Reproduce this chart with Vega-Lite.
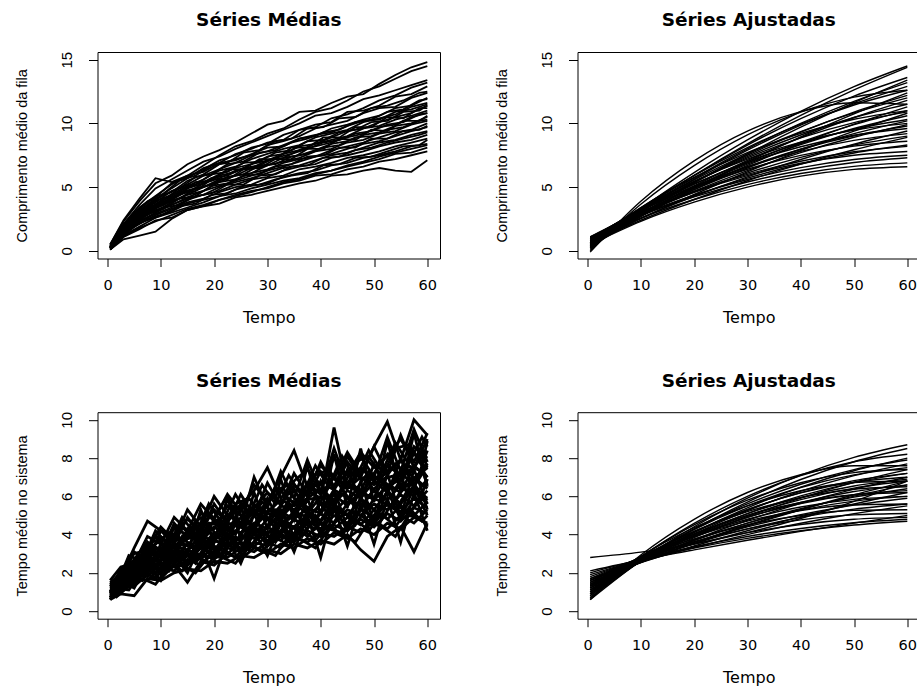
{
"$schema": "https://vega.github.io/schema/vega-lite/v6.json",
"usermeta": {"embedOptions": {"actions": false}},
"background": "white",
"padding": {"left": 13.5, "top": 10, "right": 0, "bottom": 0},
"columns": 2,
"spacing": {"row": 153.2, "column": 137},
"bounds": "flush",
"config": {
 "view": {"stroke": "#000", "strokeWidth": 1},
 "title": {"font": "DejaVu Sans", "fontSize": 18.5, "fontWeight": "bold", "color": "#000", "anchor": "middle", "frame": "group", "baseline": "alphabetic", "offset": 21.5},
 "axis": {"domain": false, "grid": false, "tickColor": "#000", "tickWidth": 1, "labelColor": "#000", "titleColor": "#000", "titleFontWeight": "normal", "labelOverlap": false, "labelFlush": false},
 "axisX": {"tickSize": 8, "labelFont": "DejaVu Sans", "labelFontSize": 14.5, "labelBaseline": "alphabetic", "labelPadding": 23.2, "titleFont": "DejaVu Sans", "titleFontSize": 16, "titleBaseline": "alphabetic", "titleY": 64.2},
 "axisY": {"tickSize": 9, "labelFont": "Liberation Sans", "labelFontSize": 15, "labelAngle": 270, "labelAlign": "center", "labelBaseline": "alphabetic", "labelPadding": 17.4, "titleFont": "Liberation Sans", "titleFontSize": 14.5, "titleAngle": 270, "titleAlign": "center", "titleBaseline": "alphabetic", "titleX": -70.7, "titleY": 103.25},
 "line": {"color": "#000", "strokeWidth": 1}
},
"datasets": {
"p1": [
{"s":1,"t":0.5,"y":0.5},{"s":1,"t":3,"y":2.3},{"s":1,"t":6,"y":3.9},{"s":1,"t":9,"y":5.3},{"s":1,"t":12,"y":5.9},{"s":1,"t":15,"y":6.8},{"s":1,"t":18,"y":7.4},{"s":1,"t":21,"y":7.9},{"s":1,"t":24,"y":8.5},{"s":1,"t":27,"y":9.2},{"s":1,"t":30,"y":9.9},{"s":1,"t":33,"y":10.2},{"s":1,"t":36,"y":10.9},{"s":1,"t":39,"y":11.0},{"s":1,"t":42,"y":11.6},{"s":1,"t":45,"y":12.1},{"s":1,"t":48,"y":12.3},{"s":1,"t":51,"y":13.1},{"s":1,"t":54,"y":13.8},{"s":1,"t":57,"y":14.4},{"s":1,"t":60,"y":14.8},
{"s":2,"t":0.5,"y":0.4},{"s":2,"t":3,"y":2.0},{"s":2,"t":6,"y":3.4},{"s":2,"t":9,"y":4.3},{"s":2,"t":12,"y":5.2},{"s":2,"t":15,"y":5.9},{"s":2,"t":18,"y":6.7},{"s":2,"t":21,"y":7.5},{"s":2,"t":24,"y":8.2},{"s":2,"t":27,"y":8.6},{"s":2,"t":30,"y":9.2},{"s":2,"t":33,"y":9.6},{"s":2,"t":36,"y":10.3},{"s":2,"t":39,"y":10.9},{"s":2,"t":42,"y":11.2},{"s":2,"t":45,"y":11.8},{"s":2,"t":48,"y":12.5},{"s":2,"t":51,"y":12.9},{"s":2,"t":54,"y":13.5},{"s":2,"t":57,"y":14.1},{"s":2,"t":60,"y":14.5},
{"s":3,"t":0.5,"y":0.4},{"s":3,"t":3,"y":2.1},{"s":3,"t":6,"y":3.6},{"s":3,"t":9,"y":4.9},{"s":3,"t":12,"y":5.6},{"s":3,"t":15,"y":6.3},{"s":3,"t":18,"y":7.0},{"s":3,"t":21,"y":7.4},{"s":3,"t":24,"y":8.0},{"s":3,"t":27,"y":8.5},{"s":3,"t":30,"y":9.0},{"s":3,"t":33,"y":9.5},{"s":3,"t":36,"y":10.0},{"s":3,"t":39,"y":10.6},{"s":3,"t":42,"y":10.8},{"s":3,"t":45,"y":11.3},{"s":3,"t":48,"y":11.9},{"s":3,"t":51,"y":12.2},{"s":3,"t":54,"y":12.6},{"s":3,"t":57,"y":13.0},{"s":3,"t":60,"y":13.4},
{"s":4,"t":0.5,"y":0.3},{"s":4,"t":3,"y":1.9},{"s":4,"t":6,"y":3.3},{"s":4,"t":9,"y":4.2},{"s":4,"t":12,"y":5.3},{"s":4,"t":15,"y":5.8},{"s":4,"t":18,"y":6.4},{"s":4,"t":21,"y":7.1},{"s":4,"t":24,"y":7.5},{"s":4,"t":27,"y":8.1},{"s":4,"t":30,"y":8.4},{"s":4,"t":33,"y":9.1},{"s":4,"t":36,"y":9.5},{"s":4,"t":39,"y":9.7},{"s":4,"t":42,"y":10.4},{"s":4,"t":45,"y":10.7},{"s":4,"t":48,"y":11.2},{"s":4,"t":51,"y":11.8},{"s":4,"t":54,"y":12.2},{"s":4,"t":57,"y":12.8},{"s":4,"t":60,"y":13.2},
{"s":5,"t":0.5,"y":0.2},{"s":5,"t":3,"y":2.0},{"s":5,"t":6,"y":3.2},{"s":5,"t":9,"y":4.0},{"s":5,"t":12,"y":4.9},{"s":5,"t":15,"y":5.7},{"s":5,"t":18,"y":6.5},{"s":5,"t":21,"y":6.9},{"s":5,"t":24,"y":7.6},{"s":5,"t":27,"y":8.0},{"s":5,"t":30,"y":8.5},{"s":5,"t":33,"y":8.7},{"s":5,"t":36,"y":9.5},{"s":5,"t":39,"y":9.9},{"s":5,"t":42,"y":10.1},{"s":5,"t":45,"y":10.9},{"s":5,"t":48,"y":11.0},{"s":5,"t":51,"y":11.4},{"s":5,"t":54,"y":12.1},{"s":5,"t":57,"y":12.3},{"s":5,"t":60,"y":12.9},
{"s":6,"t":0.5,"y":0.3},{"s":6,"t":3,"y":1.8},{"s":6,"t":6,"y":3.1},{"s":6,"t":9,"y":4.1},{"s":6,"t":12,"y":4.6},{"s":6,"t":15,"y":5.5},{"s":6,"t":18,"y":6.0},{"s":6,"t":21,"y":6.8},{"s":6,"t":24,"y":7.2},{"s":6,"t":27,"y":7.5},{"s":6,"t":30,"y":8.3},{"s":6,"t":33,"y":8.6},{"s":6,"t":36,"y":9.0},{"s":6,"t":39,"y":9.6},{"s":6,"t":42,"y":9.9},{"s":6,"t":45,"y":10.2},{"s":6,"t":48,"y":10.8},{"s":6,"t":51,"y":11.2},{"s":6,"t":54,"y":11.3},{"s":6,"t":57,"y":12.0},{"s":6,"t":60,"y":12.4},
{"s":7,"t":0.5,"y":0.3},{"s":7,"t":3,"y":1.9},{"s":7,"t":6,"y":3.0},{"s":7,"t":9,"y":3.8},{"s":7,"t":12,"y":4.7},{"s":7,"t":15,"y":5.2},{"s":7,"t":18,"y":5.9},{"s":7,"t":21,"y":6.4},{"s":7,"t":24,"y":6.9},{"s":7,"t":27,"y":7.5},{"s":7,"t":30,"y":7.8},{"s":7,"t":33,"y":8.3},{"s":7,"t":36,"y":8.8},{"s":7,"t":39,"y":9.0},{"s":7,"t":42,"y":9.6},{"s":7,"t":45,"y":9.9},{"s":7,"t":48,"y":10.3},{"s":7,"t":51,"y":10.6},{"s":7,"t":54,"y":11.2},{"s":7,"t":57,"y":11.4},{"s":7,"t":60,"y":12.0},
{"s":8,"t":0.5,"y":0.4},{"s":8,"t":3,"y":1.7},{"s":8,"t":6,"y":2.9},{"s":8,"t":9,"y":3.9},{"s":8,"t":12,"y":4.4},{"s":8,"t":15,"y":5.1},{"s":8,"t":18,"y":5.6},{"s":8,"t":21,"y":6.3},{"s":8,"t":24,"y":6.6},{"s":8,"t":27,"y":7.2},{"s":8,"t":30,"y":7.6},{"s":8,"t":33,"y":8.0},{"s":8,"t":36,"y":8.3},{"s":8,"t":39,"y":8.9},{"s":8,"t":42,"y":9.2},{"s":8,"t":45,"y":9.5},{"s":8,"t":48,"y":10.1},{"s":8,"t":51,"y":10.4},{"s":8,"t":54,"y":10.7},{"s":8,"t":57,"y":11.3},{"s":8,"t":60,"y":11.6},
{"s":9,"t":0.5,"y":0.2},{"s":9,"t":3,"y":1.8},{"s":9,"t":6,"y":2.8},{"s":9,"t":9,"y":3.6},{"s":9,"t":12,"y":4.3},{"s":9,"t":15,"y":5.0},{"s":9,"t":18,"y":5.4},{"s":9,"t":21,"y":6.0},{"s":9,"t":24,"y":6.5},{"s":9,"t":27,"y":6.8},{"s":9,"t":30,"y":7.4},{"s":9,"t":33,"y":7.6},{"s":9,"t":36,"y":8.2},{"s":9,"t":39,"y":8.4},{"s":9,"t":42,"y":8.9},{"s":9,"t":45,"y":9.4},{"s":9,"t":48,"y":9.6},{"s":9,"t":51,"y":10.1},{"s":9,"t":54,"y":10.5},{"s":9,"t":57,"y":10.8},{"s":9,"t":60,"y":11.4},
{"s":10,"t":0.5,"y":0.3},{"s":10,"t":3,"y":1.6},{"s":10,"t":6,"y":2.9},{"s":10,"t":9,"y":3.5},{"s":10,"t":12,"y":4.1},{"s":10,"t":15,"y":4.9},{"s":10,"t":18,"y":5.3},{"s":10,"t":21,"y":5.9},{"s":10,"t":24,"y":6.2},{"s":10,"t":27,"y":6.8},{"s":10,"t":30,"y":7.1},{"s":10,"t":33,"y":7.6},{"s":10,"t":36,"y":7.9},{"s":10,"t":39,"y":8.4},{"s":10,"t":42,"y":8.7},{"s":10,"t":45,"y":9.0},{"s":10,"t":48,"y":9.6},{"s":10,"t":51,"y":9.8},{"s":10,"t":54,"y":10.3},{"s":10,"t":57,"y":10.6},{"s":10,"t":60,"y":11.0},
{"s":11,"t":0.5,"y":0.3},{"s":11,"t":3,"y":1.7},{"s":11,"t":6,"y":2.7},{"s":11,"t":9,"y":3.5},{"s":11,"t":12,"y":4.2},{"s":11,"t":15,"y":4.6},{"s":11,"t":18,"y":5.3},{"s":11,"t":21,"y":5.7},{"s":11,"t":24,"y":6.3},{"s":11,"t":27,"y":6.5},{"s":11,"t":30,"y":7.1},{"s":11,"t":33,"y":7.3},{"s":11,"t":36,"y":7.9},{"s":11,"t":39,"y":8.2},{"s":11,"t":42,"y":8.5},{"s":11,"t":45,"y":8.9},{"s":11,"t":48,"y":9.2},{"s":11,"t":51,"y":9.7},{"s":11,"t":54,"y":9.9},{"s":11,"t":57,"y":10.5},{"s":11,"t":60,"y":10.8},
{"s":12,"t":0.5,"y":0.2},{"s":12,"t":3,"y":1.5},{"s":12,"t":6,"y":2.6},{"s":12,"t":9,"y":3.4},{"s":12,"t":12,"y":4.0},{"s":12,"t":15,"y":4.7},{"s":12,"t":18,"y":5.0},{"s":12,"t":21,"y":5.6},{"s":12,"t":24,"y":5.9},{"s":12,"t":27,"y":6.5},{"s":12,"t":30,"y":6.7},{"s":12,"t":33,"y":7.3},{"s":12,"t":36,"y":7.5},{"s":12,"t":39,"y":7.9},{"s":12,"t":42,"y":8.4},{"s":12,"t":45,"y":8.6},{"s":12,"t":48,"y":9.1},{"s":12,"t":51,"y":9.3},{"s":12,"t":54,"y":9.8},{"s":12,"t":57,"y":10.0},{"s":12,"t":60,"y":10.5},
{"s":13,"t":0.5,"y":0.3},{"s":13,"t":3,"y":1.6},{"s":13,"t":6,"y":2.5},{"s":13,"t":9,"y":3.3},{"s":13,"t":12,"y":3.9},{"s":13,"t":15,"y":4.4},{"s":13,"t":18,"y":5.0},{"s":13,"t":21,"y":5.4},{"s":13,"t":24,"y":5.9},{"s":13,"t":27,"y":6.1},{"s":13,"t":30,"y":6.7},{"s":13,"t":33,"y":7.0},{"s":13,"t":36,"y":7.3},{"s":13,"t":39,"y":7.8},{"s":13,"t":42,"y":8.0},{"s":13,"t":45,"y":8.5},{"s":13,"t":48,"y":8.7},{"s":13,"t":51,"y":9.2},{"s":13,"t":54,"y":9.4},{"s":13,"t":57,"y":9.9},{"s":13,"t":60,"y":10.2},
{"s":14,"t":0.5,"y":0.2},{"s":14,"t":3,"y":1.5},{"s":14,"t":6,"y":2.6},{"s":14,"t":9,"y":3.1},{"s":14,"t":12,"y":3.8},{"s":14,"t":15,"y":4.4},{"s":14,"t":18,"y":4.7},{"s":14,"t":21,"y":5.4},{"s":14,"t":24,"y":5.6},{"s":14,"t":27,"y":6.1},{"s":14,"t":30,"y":6.4},{"s":14,"t":33,"y":6.9},{"s":14,"t":36,"y":7.2},{"s":14,"t":39,"y":7.4},{"s":14,"t":42,"y":7.9},{"s":14,"t":45,"y":8.2},{"s":14,"t":48,"y":8.5},{"s":14,"t":51,"y":8.9},{"s":14,"t":54,"y":9.3},{"s":14,"t":57,"y":9.5},{"s":14,"t":60,"y":10.0},
{"s":15,"t":0.5,"y":0.3},{"s":15,"t":3,"y":1.4},{"s":15,"t":6,"y":2.4},{"s":15,"t":9,"y":3.2},{"s":15,"t":12,"y":3.6},{"s":15,"t":15,"y":4.2},{"s":15,"t":18,"y":4.7},{"s":15,"t":21,"y":5.1},{"s":15,"t":24,"y":5.5},{"s":15,"t":27,"y":5.9},{"s":15,"t":30,"y":6.3},{"s":15,"t":33,"y":6.6},{"s":15,"t":36,"y":7.0},{"s":15,"t":39,"y":7.4},{"s":15,"t":42,"y":7.6},{"s":15,"t":45,"y":8.0},{"s":15,"t":48,"y":8.4},{"s":15,"t":51,"y":8.6},{"s":15,"t":54,"y":9.0},{"s":15,"t":57,"y":9.4},{"s":15,"t":60,"y":9.7},
{"s":16,"t":0.5,"y":0.2},{"s":16,"t":3,"y":1.5},{"s":16,"t":6,"y":2.3},{"s":16,"t":9,"y":3.0},{"s":16,"t":12,"y":3.6},{"s":16,"t":15,"y":4.1},{"s":16,"t":18,"y":4.4},{"s":16,"t":21,"y":5.0},{"s":16,"t":24,"y":5.4},{"s":16,"t":27,"y":5.7},{"s":16,"t":30,"y":6.1},{"s":16,"t":33,"y":6.5},{"s":16,"t":36,"y":6.7},{"s":16,"t":39,"y":7.1},{"s":16,"t":42,"y":7.5},{"s":16,"t":45,"y":7.7},{"s":16,"t":48,"y":8.1},{"s":16,"t":51,"y":8.5},{"s":16,"t":54,"y":8.7},{"s":16,"t":57,"y":9.1},{"s":16,"t":60,"y":9.4},
{"s":17,"t":0.5,"y":0.1},{"s":17,"t":3,"y":1.3},{"s":17,"t":6,"y":2.3},{"s":17,"t":9,"y":2.9},{"s":17,"t":12,"y":3.4},{"s":17,"t":15,"y":4.0},{"s":17,"t":18,"y":4.4},{"s":17,"t":21,"y":4.7},{"s":17,"t":24,"y":5.2},{"s":17,"t":27,"y":5.6},{"s":17,"t":30,"y":5.8},{"s":17,"t":33,"y":6.3},{"s":17,"t":36,"y":6.6},{"s":17,"t":39,"y":6.8},{"s":17,"t":42,"y":7.3},{"s":17,"t":45,"y":7.5},{"s":17,"t":48,"y":7.8},{"s":17,"t":51,"y":8.2},{"s":17,"t":54,"y":8.5},{"s":17,"t":57,"y":8.7},{"s":17,"t":60,"y":9.1},
{"s":18,"t":0.5,"y":0.2},{"s":18,"t":3,"y":1.4},{"s":18,"t":6,"y":2.1},{"s":18,"t":9,"y":2.8},{"s":18,"t":12,"y":3.3},{"s":18,"t":15,"y":3.8},{"s":18,"t":18,"y":4.1},{"s":18,"t":21,"y":4.6},{"s":18,"t":24,"y":5.0},{"s":18,"t":27,"y":5.2},{"s":18,"t":30,"y":5.7},{"s":18,"t":33,"y":5.9},{"s":18,"t":36,"y":6.4},{"s":18,"t":39,"y":6.6},{"s":18,"t":42,"y":6.9},{"s":18,"t":45,"y":7.3},{"s":18,"t":48,"y":7.5},{"s":18,"t":51,"y":7.8},{"s":18,"t":54,"y":8.2},{"s":18,"t":57,"y":8.5},{"s":18,"t":60,"y":8.8},
{"s":19,"t":0.5,"y":0.1},{"s":19,"t":3,"y":1.2},{"s":19,"t":6,"y":2.2},{"s":19,"t":9,"y":2.6},{"s":19,"t":12,"y":3.1},{"s":19,"t":15,"y":3.7},{"s":19,"t":18,"y":4.0},{"s":19,"t":21,"y":4.3},{"s":19,"t":24,"y":4.8},{"s":19,"t":27,"y":5.1},{"s":19,"t":30,"y":5.3},{"s":19,"t":33,"y":5.8},{"s":19,"t":36,"y":6.1},{"s":19,"t":39,"y":6.3},{"s":19,"t":42,"y":6.7},{"s":19,"t":45,"y":6.9},{"s":19,"t":48,"y":7.3},{"s":19,"t":51,"y":7.5},{"s":19,"t":54,"y":7.8},{"s":19,"t":57,"y":8.2},{"s":19,"t":60,"y":8.4},
{"s":20,"t":0.5,"y":0.2},{"s":20,"t":3,"y":1.2},{"s":20,"t":6,"y":1.9},{"s":20,"t":9,"y":2.6},{"s":20,"t":12,"y":3.0},{"s":20,"t":15,"y":3.4},{"s":20,"t":18,"y":3.8},{"s":20,"t":21,"y":4.3},{"s":20,"t":24,"y":4.5},{"s":20,"t":27,"y":4.9},{"s":20,"t":30,"y":5.2},{"s":20,"t":33,"y":5.5},{"s":20,"t":36,"y":5.7},{"s":20,"t":39,"y":6.1},{"s":20,"t":42,"y":6.3},{"s":20,"t":45,"y":6.6},{"s":20,"t":48,"y":6.9},{"s":20,"t":51,"y":7.2},{"s":20,"t":54,"y":7.6},{"s":20,"t":57,"y":7.7},{"s":20,"t":60,"y":8.1},
{"s":21,"t":0.5,"y":0.1},{"s":21,"t":3,"y":1.1},{"s":21,"t":6,"y":1.8},{"s":21,"t":9,"y":2.3},{"s":21,"t":12,"y":2.8},{"s":21,"t":15,"y":3.3},{"s":21,"t":18,"y":3.6},{"s":21,"t":21,"y":4.0},{"s":21,"t":24,"y":4.4},{"s":21,"t":27,"y":4.7},{"s":21,"t":30,"y":4.9},{"s":21,"t":33,"y":5.3},{"s":21,"t":36,"y":5.5},{"s":21,"t":39,"y":5.9},{"s":21,"t":42,"y":6.0},{"s":21,"t":45,"y":6.4},{"s":21,"t":48,"y":6.6},{"s":21,"t":51,"y":7.0},{"s":21,"t":54,"y":7.2},{"s":21,"t":57,"y":7.5},{"s":21,"t":60,"y":7.8},
{"s":22,"t":0.5,"y":0.2},{"s":22,"t":3,"y":1.1},{"s":22,"t":6,"y":1.7},{"s":22,"t":9,"y":2.4},{"s":22,"t":12,"y":2.6},{"s":22,"t":15,"y":3.2},{"s":22,"t":18,"y":3.5},{"s":22,"t":21,"y":3.7},{"s":22,"t":24,"y":4.2},{"s":22,"t":27,"y":4.4},{"s":22,"t":30,"y":4.7},{"s":22,"t":33,"y":5.0},{"s":22,"t":36,"y":5.3},{"s":22,"t":39,"y":5.5},{"s":22,"t":42,"y":5.9},{"s":22,"t":45,"y":6.0},{"s":22,"t":48,"y":6.3},{"s":22,"t":51,"y":6.5},{"s":22,"t":54,"y":6.3},{"s":22,"t":57,"y":6.2},{"s":22,"t":60,"y":7.1},
{"s":23,"t":0.5,"y":0.1},{"s":23,"t":3,"y":0.9},{"s":23,"t":6,"y":1.2},{"s":23,"t":9,"y":1.5},{"s":23,"t":12,"y":2.5},{"s":23,"t":15,"y":3.2},{"s":23,"t":18,"y":3.5},{"s":23,"t":21,"y":4.0},{"s":23,"t":24,"y":4.3},{"s":23,"t":27,"y":4.6},{"s":23,"t":30,"y":5.0},{"s":23,"t":33,"y":5.4},{"s":23,"t":36,"y":5.6},{"s":23,"t":39,"y":6.0},{"s":23,"t":42,"y":6.3},{"s":23,"t":45,"y":6.7},{"s":23,"t":48,"y":7.0},{"s":23,"t":51,"y":7.4},{"s":23,"t":54,"y":7.7},{"s":23,"t":57,"y":8.0},{"s":23,"t":60,"y":8.3},
{"s":24,"t":0.5,"y":0.5},{"s":24,"t":3,"y":2.4},{"s":24,"t":6,"y":4.1},{"s":24,"t":9,"y":5.7},{"s":24,"t":12,"y":5.4},{"s":24,"t":15,"y":5.9},{"s":24,"t":18,"y":6.2},{"s":24,"t":21,"y":6.9},{"s":24,"t":24,"y":7.1},{"s":24,"t":27,"y":7.6},{"s":24,"t":30,"y":8.1},{"s":24,"t":33,"y":8.2},{"s":24,"t":36,"y":8.8},{"s":24,"t":39,"y":9.1},{"s":24,"t":42,"y":9.3},{"s":24,"t":45,"y":9.8},{"s":24,"t":48,"y":10.2},{"s":24,"t":51,"y":10.3},{"s":24,"t":54,"y":10.9},{"s":24,"t":57,"y":11.1},{"s":24,"t":60,"y":11.5},
{"s":25,"t":1.5,"y":1.1},{"s":25,"t":4.5,"y":2.6},{"s":25,"t":7.5,"y":3.5},{"s":25,"t":10.5,"y":4.4},{"s":25,"t":13.5,"y":4.9},{"s":25,"t":16.5,"y":5.8},{"s":25,"t":19.5,"y":6.0},{"s":25,"t":22.5,"y":6.8},{"s":25,"t":25.5,"y":7.0},{"s":25,"t":28.5,"y":7.7},{"s":25,"t":31.5,"y":7.9},{"s":25,"t":34.5,"y":8.5},{"s":25,"t":37.5,"y":8.8},{"s":25,"t":40.5,"y":9.3},{"s":25,"t":43.5,"y":9.5},{"s":25,"t":46.5,"y":10.1},{"s":25,"t":49.5,"y":10.3},{"s":25,"t":52.5,"y":10.9},{"s":25,"t":55.5,"y":11.1},{"s":25,"t":58.5,"y":11.8},{"s":25,"t":60,"y":11.9},
{"s":26,"t":1.5,"y":1.0},{"s":26,"t":4.5,"y":2.5},{"s":26,"t":7.5,"y":3.3},{"s":26,"t":10.5,"y":4.0},{"s":26,"t":13.5,"y":4.9},{"s":26,"t":16.5,"y":5.2},{"s":26,"t":19.5,"y":6.0},{"s":26,"t":22.5,"y":6.2},{"s":26,"t":25.5,"y":6.9},{"s":26,"t":28.5,"y":7.0},{"s":26,"t":31.5,"y":7.7},{"s":26,"t":34.5,"y":7.9},{"s":26,"t":37.5,"y":8.6},{"s":26,"t":40.5,"y":8.7},{"s":26,"t":43.5,"y":9.3},{"s":26,"t":46.5,"y":9.5},{"s":26,"t":49.5,"y":10.1},{"s":26,"t":52.5,"y":10.2},{"s":26,"t":55.5,"y":10.9},{"s":26,"t":58.5,"y":11.0},{"s":26,"t":60,"y":11.4},
{"s":27,"t":1.5,"y":0.9},{"s":27,"t":4.5,"y":2.2},{"s":27,"t":7.5,"y":3.4},{"s":27,"t":10.5,"y":3.7},{"s":27,"t":13.5,"y":4.6},{"s":27,"t":16.5,"y":4.9},{"s":27,"t":19.5,"y":5.7},{"s":27,"t":22.5,"y":5.9},{"s":27,"t":25.5,"y":6.5},{"s":27,"t":28.5,"y":6.7},{"s":27,"t":31.5,"y":7.3},{"s":27,"t":34.5,"y":7.6},{"s":27,"t":37.5,"y":8.0},{"s":27,"t":40.5,"y":8.5},{"s":27,"t":43.5,"y":8.7},{"s":27,"t":46.5,"y":9.2},{"s":27,"t":49.5,"y":9.4},{"s":27,"t":52.5,"y":9.9},{"s":27,"t":55.5,"y":10.1},{"s":27,"t":58.5,"y":10.7},{"s":27,"t":60,"y":10.8},
{"s":28,"t":1.5,"y":0.8},{"s":28,"t":4.5,"y":2.3},{"s":28,"t":7.5,"y":2.9},{"s":28,"t":10.5,"y":3.8},{"s":28,"t":13.5,"y":4.1},{"s":28,"t":16.5,"y":4.9},{"s":28,"t":19.5,"y":5.2},{"s":28,"t":22.5,"y":5.8},{"s":28,"t":25.5,"y":6.0},{"s":28,"t":28.5,"y":6.7},{"s":28,"t":31.5,"y":6.8},{"s":28,"t":34.5,"y":7.4},{"s":28,"t":37.5,"y":7.6},{"s":28,"t":40.5,"y":8.1},{"s":28,"t":43.5,"y":8.3},{"s":28,"t":46.5,"y":8.9},{"s":28,"t":49.5,"y":9.0},{"s":28,"t":52.5,"y":9.5},{"s":28,"t":55.5,"y":9.7},{"s":28,"t":58.5,"y":10.2},{"s":28,"t":60,"y":10.3},
{"s":29,"t":1.5,"y":0.9},{"s":29,"t":4.5,"y":2.0},{"s":29,"t":7.5,"y":3.0},{"s":29,"t":10.5,"y":3.3},{"s":29,"t":13.5,"y":4.1},{"s":29,"t":16.5,"y":4.3},{"s":29,"t":19.5,"y":5.1},{"s":29,"t":22.5,"y":5.3},{"s":29,"t":25.5,"y":5.9},{"s":29,"t":28.5,"y":6.0},{"s":29,"t":31.5,"y":6.6},{"s":29,"t":34.5,"y":6.8},{"s":29,"t":37.5,"y":7.4},{"s":29,"t":40.5,"y":7.5},{"s":29,"t":43.5,"y":8.1},{"s":29,"t":46.5,"y":8.1},{"s":29,"t":49.5,"y":8.8},{"s":29,"t":52.5,"y":8.8},{"s":29,"t":55.5,"y":9.4},{"s":29,"t":58.5,"y":9.5},{"s":29,"t":60,"y":9.8},
{"s":30,"t":1.5,"y":0.7},{"s":30,"t":4.5,"y":2.1},{"s":30,"t":7.5,"y":2.6},{"s":30,"t":10.5,"y":3.4},{"s":30,"t":13.5,"y":3.6},{"s":30,"t":16.5,"y":4.3},{"s":30,"t":19.5,"y":4.5},{"s":30,"t":22.5,"y":5.2},{"s":30,"t":25.5,"y":5.2},{"s":30,"t":28.5,"y":5.9},{"s":30,"t":31.5,"y":6.0},{"s":30,"t":34.5,"y":6.6},{"s":30,"t":37.5,"y":6.7},{"s":30,"t":40.5,"y":7.3},{"s":30,"t":43.5,"y":7.4},{"s":30,"t":46.5,"y":7.9},{"s":30,"t":49.5,"y":8.1},{"s":30,"t":52.5,"y":8.5},{"s":30,"t":55.5,"y":8.8},{"s":30,"t":58.5,"y":9.1},{"s":30,"t":60,"y":9.3},
{"s":31,"t":1.5,"y":1.2},{"s":31,"t":4.5,"y":2.8},{"s":31,"t":7.5,"y":3.9},{"s":31,"t":10.5,"y":4.5},{"s":31,"t":13.5,"y":5.5},{"s":31,"t":16.5,"y":5.9},{"s":31,"t":19.5,"y":6.7},{"s":31,"t":22.5,"y":6.9},{"s":31,"t":25.5,"y":7.7},{"s":31,"t":28.5,"y":7.9},{"s":31,"t":31.5,"y":8.6},{"s":31,"t":34.5,"y":8.8},{"s":31,"t":37.5,"y":9.6},{"s":31,"t":40.5,"y":9.7},{"s":31,"t":43.5,"y":10.4},{"s":31,"t":46.5,"y":10.5},{"s":31,"t":49.5,"y":11.2},{"s":31,"t":52.5,"y":11.4},{"s":31,"t":55.5,"y":11.8},{"s":31,"t":58.5,"y":12.4},{"s":31,"t":60,"y":12.5},
{"s":32,"t":1.5,"y":0.7},{"s":32,"t":4.5,"y":1.8},{"s":32,"t":7.5,"y":2.5},{"s":32,"t":10.5,"y":2.9},{"s":32,"t":13.5,"y":3.5},{"s":32,"t":16.5,"y":3.7},{"s":32,"t":19.5,"y":4.4},{"s":32,"t":22.5,"y":4.5},{"s":32,"t":25.5,"y":5.1},{"s":32,"t":28.5,"y":5.2},{"s":32,"t":31.5,"y":5.6},{"s":32,"t":34.5,"y":5.9},{"s":32,"t":37.5,"y":6.1},{"s":32,"t":40.5,"y":6.7},{"s":32,"t":43.5,"y":6.8},{"s":32,"t":46.5,"y":7.3},{"s":32,"t":49.5,"y":7.4},{"s":32,"t":52.5,"y":7.8},{"s":32,"t":55.5,"y":8.2},{"s":32,"t":58.5,"y":8.3},{"s":32,"t":60,"y":8.7},
{"s":33,"t":1.5,"y":1.0},{"s":33,"t":4.5,"y":2.1},{"s":33,"t":7.5,"y":3.2},{"s":33,"t":10.5,"y":3.6},{"s":33,"t":13.5,"y":4.5},{"s":33,"t":16.5,"y":4.7},{"s":33,"t":19.5,"y":5.6},{"s":33,"t":22.5,"y":5.6},{"s":33,"t":25.5,"y":6.4},{"s":33,"t":28.5,"y":6.5},{"s":33,"t":31.5,"y":7.2},{"s":33,"t":34.5,"y":7.2},{"s":33,"t":37.5,"y":8.0},{"s":33,"t":40.5,"y":8.0},{"s":33,"t":43.5,"y":8.8},{"s":33,"t":46.5,"y":8.7},{"s":33,"t":49.5,"y":9.5},{"s":33,"t":52.5,"y":9.4},{"s":33,"t":55.5,"y":10.2},{"s":33,"t":58.5,"y":10.2},{"s":33,"t":60,"y":10.6},
{"s":34,"t":1.5,"y":1.1},{"s":34,"t":4.5,"y":2.4},{"s":34,"t":7.5,"y":3.2},{"s":34,"t":10.5,"y":4.1},{"s":34,"t":13.5,"y":4.4},{"s":34,"t":16.5,"y":5.4},{"s":34,"t":19.5,"y":5.5},{"s":34,"t":22.5,"y":6.4},{"s":34,"t":25.5,"y":6.4},{"s":34,"t":28.5,"y":7.2},{"s":34,"t":31.5,"y":7.2},{"s":34,"t":34.5,"y":8.1},{"s":34,"t":37.5,"y":8.1},{"s":34,"t":40.5,"y":8.9},{"s":34,"t":43.5,"y":8.9},{"s":34,"t":46.5,"y":9.7},{"s":34,"t":49.5,"y":9.7},{"s":34,"t":52.5,"y":10.5},{"s":34,"t":55.5,"y":10.4},{"s":34,"t":58.5,"y":11.2},{"s":34,"t":60,"y":11.2}
],
"p2": [
{"s":1,"t":0.5,"y":-0.1},{"s":1,"t":10,"y":3.89},{"s":1,"t":20,"y":7.06},{"s":1,"t":30,"y":9.4},{"s":1,"t":40,"y":10.92},{"s":1,"t":50,"y":11.62},{"s":1,"t":60,"y":11.5},
{"s":2,"t":0.5,"y":0.0},{"s":2,"t":10,"y":3.66},{"s":2,"t":20,"y":6.69},{"s":2,"t":30,"y":9.1},{"s":2,"t":40,"y":10.89},{"s":2,"t":50,"y":12.06},{"s":2,"t":60,"y":12.6},
{"s":3,"t":0.5,"y":0.1},{"s":3,"t":10,"y":3.28},{"s":3,"t":20,"y":6.14},{"s":3,"t":30,"y":8.7},{"s":3,"t":40,"y":10.94},{"s":3,"t":50,"y":12.88},{"s":3,"t":60,"y":14.5},
{"s":4,"t":0.5,"y":0.3},{"s":4,"t":10,"y":3.23},{"s":4,"t":20,"y":5.93},{"s":4,"t":30,"y":8.4},{"s":4,"t":40,"y":10.63},{"s":4,"t":50,"y":12.63},{"s":4,"t":60,"y":14.4},
{"s":5,"t":0.5,"y":0.2},{"s":5,"t":10,"y":3.21},{"s":5,"t":20,"y":5.91},{"s":5,"t":30,"y":8.3},{"s":5,"t":40,"y":10.38},{"s":5,"t":50,"y":12.14},{"s":5,"t":60,"y":13.6},
{"s":6,"t":0.5,"y":0.4},{"s":6,"t":10,"y":3.2},{"s":6,"t":20,"y":5.73},{"s":6,"t":30,"y":8.0},{"s":6,"t":40,"y":10.0},{"s":6,"t":50,"y":11.73},{"s":6,"t":60,"y":13.2},
{"s":7,"t":0.5,"y":0.2},{"s":7,"t":10,"y":3.07},{"s":7,"t":20,"y":5.63},{"s":7,"t":30,"y":7.9},{"s":7,"t":40,"y":9.87},{"s":7,"t":50,"y":11.53},{"s":7,"t":60,"y":12.9},
{"s":8,"t":0.5,"y":0.6},{"s":8,"t":10,"y":3.39},{"s":8,"t":20,"y":5.76},{"s":8,"t":30,"y":7.7},{"s":8,"t":40,"y":9.22},{"s":8,"t":50,"y":10.32},{"s":8,"t":60,"y":11.0},
{"s":9,"t":0.5,"y":0.3},{"s":9,"t":10,"y":2.9},{"s":9,"t":20,"y":5.33},{"s":9,"t":30,"y":7.6},{"s":9,"t":40,"y":9.7},{"s":9,"t":50,"y":11.63},{"s":9,"t":60,"y":13.4},
{"s":10,"t":0.5,"y":0.5},{"s":10,"t":10,"y":3.09},{"s":10,"t":20,"y":5.42},{"s":10,"t":30,"y":7.5},{"s":10,"t":40,"y":9.32},{"s":10,"t":50,"y":10.89},{"s":10,"t":60,"y":12.2},
{"s":11,"t":0.5,"y":0.5},{"s":11,"t":10,"y":3.12},{"s":11,"t":20,"y":5.39},{"s":11,"t":30,"y":7.3},{"s":11,"t":40,"y":8.86},{"s":11,"t":50,"y":10.06},{"s":11,"t":60,"y":10.9},
{"s":12,"t":0.5,"y":0.8},{"s":12,"t":10,"y":3.33},{"s":12,"t":20,"y":5.47},{"s":12,"t":30,"y":7.2},{"s":12,"t":40,"y":8.53},{"s":12,"t":50,"y":9.47},{"s":12,"t":60,"y":10.0},
{"s":13,"t":0.5,"y":0.4},{"s":13,"t":10,"y":2.86},{"s":13,"t":20,"y":5.09},{"s":13,"t":30,"y":7.1},{"s":13,"t":40,"y":8.89},{"s":13,"t":50,"y":10.46},{"s":13,"t":60,"y":11.8},
{"s":14,"t":0.5,"y":0.3},{"s":14,"t":10,"y":2.68},{"s":14,"t":20,"y":4.91},{"s":14,"t":30,"y":7.0},{"s":14,"t":40,"y":8.94},{"s":14,"t":50,"y":10.75},{"s":14,"t":60,"y":12.4},
{"s":15,"t":0.5,"y":0.9},{"s":15,"t":10,"y":3.27},{"s":15,"t":20,"y":5.27},{"s":15,"t":30,"y":6.9},{"s":15,"t":40,"y":8.17},{"s":15,"t":50,"y":9.07},{"s":15,"t":60,"y":9.6},
{"s":16,"t":0.5,"y":0.6},{"s":16,"t":10,"y":2.93},{"s":16,"t":20,"y":5.0},{"s":16,"t":30,"y":6.8},{"s":16,"t":40,"y":8.33},{"s":16,"t":50,"y":9.6},{"s":16,"t":60,"y":10.6},
{"s":17,"t":0.5,"y":0.5},{"s":17,"t":10,"y":2.74},{"s":17,"t":20,"y":4.81},{"s":17,"t":30,"y":6.7},{"s":17,"t":40,"y":8.41},{"s":17,"t":50,"y":9.94},{"s":17,"t":60,"y":11.3},
{"s":18,"t":0.5,"y":1.0},{"s":18,"t":10,"y":3.2},{"s":18,"t":20,"y":5.07},{"s":18,"t":30,"y":6.6},{"s":18,"t":40,"y":7.8},{"s":18,"t":50,"y":8.67},{"s":18,"t":60,"y":9.2},
{"s":19,"t":0.5,"y":0.7},{"s":19,"t":10,"y":2.87},{"s":19,"t":20,"y":4.8},{"s":19,"t":30,"y":6.5},{"s":19,"t":40,"y":7.97},{"s":19,"t":50,"y":9.2},{"s":19,"t":60,"y":10.2},
{"s":20,"t":0.5,"y":1.0},{"s":20,"t":10,"y":3.16},{"s":20,"t":20,"y":4.96},{"s":20,"t":30,"y":6.4},{"s":20,"t":40,"y":7.49},{"s":20,"t":50,"y":8.22},{"s":20,"t":60,"y":8.6},
{"s":21,"t":0.5,"y":0.8},{"s":21,"t":10,"y":2.84},{"s":21,"t":20,"y":4.68},{"s":21,"t":30,"y":6.3},{"s":21,"t":40,"y":7.71},{"s":21,"t":50,"y":8.91},{"s":21,"t":60,"y":9.9},
{"s":22,"t":0.5,"y":0.5},{"s":22,"t":10,"y":2.52},{"s":22,"t":20,"y":4.42},{"s":22,"t":30,"y":6.2},{"s":22,"t":40,"y":7.86},{"s":22,"t":50,"y":9.39},{"s":22,"t":60,"y":10.8},
{"s":23,"t":0.5,"y":1.1},{"s":23,"t":10,"y":3.03},{"s":23,"t":20,"y":4.67},{"s":23,"t":30,"y":6.0},{"s":23,"t":40,"y":7.03},{"s":23,"t":50,"y":7.77},{"s":23,"t":60,"y":8.2},
{"s":24,"t":0.5,"y":1.0},{"s":24,"t":10,"y":2.97},{"s":24,"t":20,"y":4.6},{"s":24,"t":30,"y":5.9},{"s":24,"t":40,"y":6.87},{"s":24,"t":50,"y":7.5},{"s":24,"t":60,"y":7.8},
{"s":25,"t":0.5,"y":0.7},{"s":25,"t":10,"y":2.57},{"s":25,"t":20,"y":4.27},{"s":25,"t":30,"y":5.8},{"s":25,"t":40,"y":7.17},{"s":25,"t":50,"y":8.37},{"s":25,"t":60,"y":9.4},
{"s":26,"t":0.5,"y":1.0},{"s":26,"t":10,"y":2.83},{"s":26,"t":20,"y":4.37},{"s":26,"t":30,"y":5.6},{"s":26,"t":40,"y":6.53},{"s":26,"t":50,"y":7.17},{"s":26,"t":60,"y":7.5},
{"s":27,"t":0.5,"y":0.6},{"s":27,"t":10,"y":2.4},{"s":27,"t":20,"y":4.03},{"s":27,"t":30,"y":5.5},{"s":27,"t":40,"y":6.8},{"s":27,"t":50,"y":7.93},{"s":27,"t":60,"y":8.9},
{"s":28,"t":0.5,"y":1.1},{"s":28,"t":10,"y":2.8},{"s":28,"t":20,"y":4.23},{"s":28,"t":30,"y":5.4},{"s":28,"t":40,"y":6.3},{"s":28,"t":50,"y":6.93},{"s":28,"t":60,"y":7.3},
{"s":29,"t":0.5,"y":0.8},{"s":29,"t":10,"y":2.57},{"s":29,"t":20,"y":4.03},{"s":29,"t":30,"y":5.2},{"s":29,"t":40,"y":6.07},{"s":29,"t":50,"y":6.63},{"s":29,"t":60,"y":6.9},
{"s":30,"t":0.5,"y":0.5},{"s":30,"t":10,"y":2.32},{"s":30,"t":20,"y":3.82},{"s":30,"t":30,"y":5.0},{"s":30,"t":40,"y":5.86},{"s":30,"t":50,"y":6.39},{"s":30,"t":60,"y":6.6},
{"s":31,"t":0.5,"y":0.4},{"s":31,"t":10,"y":3.06},{"s":31,"t":20,"y":5.39},{"s":31,"t":30,"y":7.4},{"s":31,"t":40,"y":9.09},{"s":31,"t":50,"y":10.46},{"s":31,"t":60,"y":11.5},
{"s":32,"t":0.5,"y":0.6},{"s":32,"t":10,"y":3.08},{"s":32,"t":20,"y":5.21},{"s":32,"t":30,"y":7.0},{"s":32,"t":40,"y":8.44},{"s":32,"t":50,"y":9.54},{"s":32,"t":60,"y":10.3},
{"s":33,"t":0.5,"y":0.4},{"s":33,"t":10,"y":2.83},{"s":33,"t":20,"y":5.0},{"s":33,"t":30,"y":6.9},{"s":33,"t":40,"y":8.53},{"s":33,"t":50,"y":9.9},{"s":33,"t":60,"y":11.0},
{"s":34,"t":0.5,"y":0.7},{"s":34,"t":10,"y":2.97},{"s":34,"t":20,"y":4.93},{"s":34,"t":30,"y":6.6},{"s":34,"t":40,"y":7.97},{"s":34,"t":50,"y":9.03},{"s":34,"t":60,"y":9.8},
{"s":35,"t":0.5,"y":0.6},{"s":35,"t":10,"y":3.22},{"s":35,"t":20,"y":5.56},{"s":35,"t":30,"y":7.6},{"s":35,"t":40,"y":9.36},{"s":35,"t":50,"y":10.82},{"s":35,"t":60,"y":12.0},
{"s":36,"t":0.5,"y":0.8},{"s":36,"t":10,"y":2.83},{"s":36,"t":20,"y":4.6},{"s":36,"t":30,"y":6.1},{"s":36,"t":40,"y":7.33},{"s":36,"t":50,"y":8.3},{"s":36,"t":60,"y":9.0},
{"s":37,"t":0.5,"y":0.5},{"s":37,"t":10,"y":3.38},{"s":37,"t":20,"y":5.91},{"s":37,"t":30,"y":8.1},{"s":37,"t":40,"y":9.94},{"s":37,"t":50,"y":11.44},{"s":37,"t":60,"y":12.6},
{"s":38,"t":0.5,"y":0.9},{"s":38,"t":10,"y":2.74},{"s":38,"t":20,"y":4.34},{"s":38,"t":30,"y":5.7},{"s":38,"t":40,"y":6.81},{"s":38,"t":50,"y":7.68},{"s":38,"t":60,"y":8.3}
],
"p3": [
{"s":1,"t":0.5,"y":1.6},{"s":1,"t":2.5,"y":2.3},{"s":1,"t":5,"y":2.5},{"s":1,"t":7.5,"y":3.9},{"s":1,"t":10,"y":3.5},{"s":1,"t":12.5,"y":4.9},{"s":1,"t":15,"y":4.2},{"s":1,"t":17.5,"y":5.6},{"s":1,"t":20,"y":4.8},{"s":1,"t":22.5,"y":6.1},{"s":1,"t":25,"y":5.2},{"s":1,"t":27.5,"y":6.6},{"s":1,"t":30,"y":5.7},{"s":1,"t":32.5,"y":7.0},{"s":1,"t":35,"y":8.4},{"s":1,"t":37.5,"y":6.5},{"s":1,"t":40,"y":7.6},{"s":1,"t":42.5,"y":6.9},{"s":1,"t":45,"y":8.3},{"s":1,"t":47.5,"y":7.2},{"s":1,"t":50,"y":8.6},{"s":1,"t":52.5,"y":9.9},{"s":1,"t":55,"y":7.9},{"s":1,"t":57.5,"y":10.0},{"s":1,"t":60,"y":9.2},
{"s":2,"t":0.5,"y":1.3},{"s":2,"t":2.5,"y":2.1},{"s":2,"t":5,"y":3.0},{"s":2,"t":7.5,"y":3.2},{"s":2,"t":10,"y":4.4},{"s":2,"t":12.5,"y":3.7},{"s":2,"t":15,"y":5.3},{"s":2,"t":17.5,"y":4.4},{"s":2,"t":20,"y":6.0},{"s":2,"t":22.5,"y":5.0},{"s":2,"t":25,"y":5.5},{"s":2,"t":27.5,"y":6.3},{"s":2,"t":30,"y":7.5},{"s":2,"t":32.5,"y":5.9},{"s":2,"t":35,"y":6.8},{"s":2,"t":37.5,"y":7.4},{"s":2,"t":40,"y":6.6},{"s":2,"t":42.5,"y":8.0},{"s":2,"t":45,"y":7.1},{"s":2,"t":47.5,"y":8.3},{"s":2,"t":50,"y":7.5},{"s":2,"t":52.5,"y":8.1},{"s":2,"t":55,"y":9.0},{"s":2,"t":57.5,"y":7.8},{"s":2,"t":60,"y":9.3},
{"s":3,"t":0.5,"y":1.5},{"s":3,"t":2.5,"y":1.9},{"s":3,"t":5,"y":2.7},{"s":3,"t":7.5,"y":3.6},{"s":3,"t":10,"y":3.2},{"s":3,"t":12.5,"y":4.5},{"s":3,"t":15,"y":3.9},{"s":3,"t":17.5,"y":4.6},{"s":3,"t":20,"y":4.3},{"s":3,"t":22.5,"y":5.5},{"s":3,"t":25,"y":5.0},{"s":3,"t":27.5,"y":5.4},{"s":3,"t":30,"y":6.2},{"s":3,"t":32.5,"y":5.6},{"s":3,"t":35,"y":6.6},{"s":3,"t":37.5,"y":6.0},{"s":3,"t":40,"y":7.3},{"s":3,"t":42.5,"y":6.4},{"s":3,"t":45,"y":7.8},{"s":3,"t":47.5,"y":6.9},{"s":3,"t":50,"y":7.2},{"s":3,"t":52.5,"y":8.2},{"s":3,"t":55,"y":7.0},{"s":3,"t":57.5,"y":8.6},{"s":3,"t":60,"y":8.0},
{"s":4,"t":0.5,"y":1.0},{"s":4,"t":2.5,"y":1.8},{"s":4,"t":5,"y":3.3},{"s":4,"t":7.5,"y":4.7},{"s":4,"t":10,"y":4.2},{"s":4,"t":12.5,"y":4.0},{"s":4,"t":15,"y":4.8},{"s":4,"t":17.5,"y":4.2},{"s":4,"t":20,"y":5.3},{"s":4,"t":22.5,"y":4.7},{"s":4,"t":25,"y":5.6},{"s":4,"t":27.5,"y":5.0},{"s":4,"t":30,"y":5.7},{"s":4,"t":32.5,"y":6.3},{"s":4,"t":35,"y":5.6},{"s":4,"t":37.5,"y":6.7},{"s":4,"t":40,"y":6.1},{"s":4,"t":42.5,"y":7.0},{"s":4,"t":45,"y":6.5},{"s":4,"t":47.5,"y":7.5},{"s":4,"t":50,"y":6.8},{"s":4,"t":52.5,"y":7.6},{"s":4,"t":55,"y":7.1},{"s":4,"t":57.5,"y":8.3},{"s":4,"t":60,"y":7.4},
{"s":5,"t":0.5,"y":1.2},{"s":5,"t":2.5,"y":1.7},{"s":5,"t":5,"y":2.4},{"s":5,"t":7.5,"y":2.9},{"s":5,"t":10,"y":3.9},{"s":5,"t":12.5,"y":3.3},{"s":5,"t":15,"y":4.2},{"s":5,"t":17.5,"y":4.0},{"s":5,"t":20,"y":4.7},{"s":5,"t":22.5,"y":5.0},{"s":5,"t":25,"y":4.6},{"s":5,"t":27.5,"y":5.3},{"s":5,"t":30,"y":5.2},{"s":5,"t":32.5,"y":5.8},{"s":5,"t":35,"y":5.5},{"s":5,"t":37.5,"y":6.3},{"s":5,"t":40,"y":5.9},{"s":5,"t":42.5,"y":9.6},{"s":5,"t":45,"y":6.4},{"s":5,"t":47.5,"y":7.0},{"s":5,"t":50,"y":6.6},{"s":5,"t":52.5,"y":7.3},{"s":5,"t":55,"y":7.9},{"s":5,"t":57.5,"y":6.9},{"s":5,"t":60,"y":7.7},
{"s":6,"t":0.5,"y":0.9},{"s":6,"t":2.5,"y":1.8},{"s":6,"t":5,"y":2.2},{"s":6,"t":7.5,"y":3.0},{"s":6,"t":10,"y":3.0},{"s":6,"t":12.5,"y":3.9},{"s":6,"t":15,"y":3.4},{"s":6,"t":17.5,"y":4.3},{"s":6,"t":20,"y":4.0},{"s":6,"t":22.5,"y":4.6},{"s":6,"t":25,"y":4.4},{"s":6,"t":27.5,"y":5.2},{"s":6,"t":30,"y":4.8},{"s":6,"t":32.5,"y":5.5},{"s":6,"t":35,"y":5.3},{"s":6,"t":37.5,"y":5.9},{"s":6,"t":40,"y":6.4},{"s":6,"t":42.5,"y":5.8},{"s":6,"t":45,"y":6.7},{"s":6,"t":47.5,"y":6.1},{"s":6,"t":50,"y":7.1},{"s":6,"t":52.5,"y":6.5},{"s":6,"t":55,"y":6.9},{"s":6,"t":57.5,"y":7.6},{"s":6,"t":60,"y":7.0},
{"s":7,"t":0.5,"y":1.1},{"s":7,"t":2.5,"y":1.4},{"s":7,"t":5,"y":2.6},{"s":7,"t":7.5,"y":2.4},{"s":7,"t":10,"y":3.3},{"s":7,"t":12.5,"y":3.0},{"s":7,"t":15,"y":3.9},{"s":7,"t":17.5,"y":3.6},{"s":7,"t":20,"y":4.4},{"s":7,"t":22.5,"y":3.9},{"s":7,"t":25,"y":4.9},{"s":7,"t":27.5,"y":4.4},{"s":7,"t":30,"y":5.1},{"s":7,"t":32.5,"y":4.9},{"s":7,"t":35,"y":5.6},{"s":7,"t":37.5,"y":5.1},{"s":7,"t":40,"y":6.0},{"s":7,"t":42.5,"y":5.7},{"s":7,"t":45,"y":6.3},{"s":7,"t":47.5,"y":5.9},{"s":7,"t":50,"y":6.8},{"s":7,"t":52.5,"y":6.2},{"s":7,"t":55,"y":7.3},{"s":7,"t":57.5,"y":6.5},{"s":7,"t":60,"y":7.6},
{"s":8,"t":0.5,"y":1.0},{"s":8,"t":2.5,"y":1.7},{"s":8,"t":5,"y":1.9},{"s":8,"t":7.5,"y":2.8},{"s":8,"t":10,"y":2.6},{"s":8,"t":12.5,"y":3.4},{"s":8,"t":15,"y":3.2},{"s":8,"t":17.5,"y":3.9},{"s":8,"t":20,"y":3.7},{"s":8,"t":22.5,"y":4.3},{"s":8,"t":25,"y":4.1},{"s":8,"t":27.5,"y":4.6},{"s":8,"t":30,"y":4.3},{"s":8,"t":32.5,"y":5.2},{"s":8,"t":35,"y":4.8},{"s":8,"t":37.5,"y":5.4},{"s":8,"t":40,"y":5.1},{"s":8,"t":42.5,"y":6.1},{"s":8,"t":45,"y":5.5},{"s":8,"t":47.5,"y":6.3},{"s":8,"t":50,"y":5.8},{"s":8,"t":52.5,"y":6.6},{"s":8,"t":55,"y":6.2},{"s":8,"t":57.5,"y":7.0},{"s":8,"t":60,"y":6.4},
{"s":9,"t":0.5,"y":1.2},{"s":9,"t":2.5,"y":1.3},{"s":9,"t":5,"y":2.1},{"s":9,"t":7.5,"y":2.3},{"s":9,"t":10,"y":3.0},{"s":9,"t":12.5,"y":2.8},{"s":9,"t":15,"y":3.5},{"s":9,"t":17.5,"y":3.3},{"s":9,"t":20,"y":4.1},{"s":9,"t":22.5,"y":3.7},{"s":9,"t":25,"y":4.5},{"s":9,"t":27.5,"y":4.0},{"s":9,"t":30,"y":4.8},{"s":9,"t":32.5,"y":4.5},{"s":9,"t":35,"y":5.2},{"s":9,"t":37.5,"y":4.9},{"s":9,"t":40,"y":5.6},{"s":9,"t":42.5,"y":5.2},{"s":9,"t":45,"y":5.9},{"s":9,"t":47.5,"y":5.5},{"s":9,"t":50,"y":6.3},{"s":9,"t":52.5,"y":5.8},{"s":9,"t":55,"y":6.6},{"s":9,"t":57.5,"y":6.0},{"s":9,"t":60,"y":6.9},
{"s":10,"t":0.5,"y":0.8},{"s":10,"t":2.5,"y":1.5},{"s":10,"t":5,"y":1.8},{"s":10,"t":7.5,"y":2.5},{"s":10,"t":10,"y":2.4},{"s":10,"t":12.5,"y":3.1},{"s":10,"t":15,"y":2.9},{"s":10,"t":17.5,"y":3.5},{"s":10,"t":20,"y":3.2},{"s":10,"t":22.5,"y":4.0},{"s":10,"t":25,"y":3.7},{"s":10,"t":27.5,"y":4.3},{"s":10,"t":30,"y":4.1},{"s":10,"t":32.5,"y":4.6},{"s":10,"t":35,"y":4.4},{"s":10,"t":37.5,"y":5.0},{"s":10,"t":40,"y":4.7},{"s":10,"t":42.5,"y":5.5},{"s":10,"t":45,"y":5.0},{"s":10,"t":47.5,"y":5.8},{"s":10,"t":50,"y":5.3},{"s":10,"t":52.5,"y":6.2},{"s":10,"t":55,"y":5.6},{"s":10,"t":57.5,"y":6.4},{"s":10,"t":60,"y":5.9},
{"s":11,"t":0.5,"y":1.1},{"s":11,"t":2.5,"y":1.2},{"s":11,"t":5,"y":2.0},{"s":11,"t":7.5,"y":2.0},{"s":11,"t":10,"y":2.7},{"s":11,"t":12.5,"y":2.6},{"s":11,"t":15,"y":3.2},{"s":11,"t":17.5,"y":2.9},{"s":11,"t":20,"y":3.7},{"s":11,"t":22.5,"y":3.4},{"s":11,"t":25,"y":3.9},{"s":11,"t":27.5,"y":3.8},{"s":11,"t":30,"y":4.4},{"s":11,"t":32.5,"y":4.0},{"s":11,"t":35,"y":4.8},{"s":11,"t":37.5,"y":4.3},{"s":11,"t":40,"y":5.1},{"s":11,"t":42.5,"y":4.6},{"s":11,"t":45,"y":5.3},{"s":11,"t":47.5,"y":5.0},{"s":11,"t":50,"y":5.6},{"s":11,"t":52.5,"y":5.3},{"s":11,"t":55,"y":6.1},{"s":11,"t":57.5,"y":5.5},{"s":11,"t":60,"y":6.3},
{"s":12,"t":0.5,"y":0.7},{"s":12,"t":2.5,"y":1.4},{"s":12,"t":5,"y":1.6},{"s":12,"t":7.5,"y":2.3},{"s":12,"t":10,"y":2.2},{"s":12,"t":12.5,"y":2.8},{"s":12,"t":15,"y":2.6},{"s":12,"t":17.5,"y":3.3},{"s":12,"t":20,"y":3.0},{"s":12,"t":22.5,"y":3.6},{"s":12,"t":25,"y":3.3},{"s":12,"t":27.5,"y":4.0},{"s":12,"t":30,"y":3.7},{"s":12,"t":32.5,"y":4.2},{"s":12,"t":35,"y":4.0},{"s":12,"t":37.5,"y":4.7},{"s":12,"t":40,"y":4.3},{"s":12,"t":42.5,"y":5.0},{"s":12,"t":45,"y":4.6},{"s":12,"t":47.5,"y":5.3},{"s":12,"t":50,"y":4.9},{"s":12,"t":52.5,"y":5.6},{"s":12,"t":55,"y":5.2},{"s":12,"t":57.5,"y":5.9},{"s":12,"t":60,"y":5.4},
{"s":13,"t":0.5,"y":0.9},{"s":13,"t":2.5,"y":1.1},{"s":13,"t":5,"y":1.9},{"s":13,"t":7.5,"y":1.8},{"s":13,"t":10,"y":2.5},{"s":13,"t":12.5,"y":2.3},{"s":13,"t":15,"y":2.9},{"s":13,"t":17.5,"y":2.7},{"s":13,"t":20,"y":3.4},{"s":13,"t":22.5,"y":3.0},{"s":13,"t":25,"y":3.6},{"s":13,"t":27.5,"y":3.4},{"s":13,"t":30,"y":3.9},{"s":13,"t":32.5,"y":3.7},{"s":13,"t":35,"y":4.4},{"s":13,"t":37.5,"y":3.9},{"s":13,"t":40,"y":4.6},{"s":13,"t":42.5,"y":4.3},{"s":13,"t":45,"y":4.9},{"s":13,"t":47.5,"y":4.5},{"s":13,"t":50,"y":5.3},{"s":13,"t":52.5,"y":4.8},{"s":13,"t":55,"y":5.5},{"s":13,"t":57.5,"y":5.0},{"s":13,"t":60,"y":5.7},
{"s":14,"t":0.5,"y":0.6},{"s":14,"t":2.5,"y":1.3},{"s":14,"t":5,"y":1.5},{"s":14,"t":7.5,"y":2.1},{"s":14,"t":10,"y":2.0},{"s":14,"t":12.5,"y":2.7},{"s":14,"t":15,"y":2.4},{"s":14,"t":17.5,"y":3.0},{"s":14,"t":20,"y":2.7},{"s":14,"t":22.5,"y":3.3},{"s":14,"t":25,"y":3.1},{"s":14,"t":27.5,"y":3.6},{"s":14,"t":30,"y":3.4},{"s":14,"t":32.5,"y":3.9},{"s":14,"t":35,"y":3.6},{"s":14,"t":37.5,"y":4.2},{"s":14,"t":40,"y":3.9},{"s":14,"t":42.5,"y":4.5},{"s":14,"t":45,"y":4.2},{"s":14,"t":47.5,"y":4.8},{"s":14,"t":50,"y":4.4},{"s":14,"t":52.5,"y":5.1},{"s":14,"t":55,"y":4.7},{"s":14,"t":57.5,"y":5.4},{"s":14,"t":60,"y":5.1},
{"s":15,"t":0.5,"y":0.8},{"s":15,"t":2.5,"y":1.0},{"s":15,"t":5,"y":1.7},{"s":15,"t":7.5,"y":1.6},{"s":15,"t":10,"y":2.3},{"s":15,"t":12.5,"y":2.1},{"s":15,"t":15,"y":2.7},{"s":15,"t":17.5,"y":2.4},{"s":15,"t":20,"y":3.1},{"s":15,"t":22.5,"y":2.8},{"s":15,"t":25,"y":3.3},{"s":15,"t":27.5,"y":3.1},{"s":15,"t":30,"y":3.6},{"s":15,"t":32.5,"y":3.3},{"s":15,"t":35,"y":3.9},{"s":15,"t":37.5,"y":3.6},{"s":15,"t":40,"y":4.1},{"s":15,"t":42.5,"y":3.9},{"s":15,"t":45,"y":4.4},{"s":15,"t":47.5,"y":4.1},{"s":15,"t":50,"y":4.7},{"s":15,"t":52.5,"y":4.3},{"s":15,"t":55,"y":5.0},{"s":15,"t":57.5,"y":4.6},{"s":15,"t":60,"y":5.3},
{"s":16,"t":0.5,"y":0.7},{"s":16,"t":2.5,"y":1.2},{"s":16,"t":5,"y":1.3},{"s":16,"t":7.5,"y":1.9},{"s":16,"t":10,"y":1.7},{"s":16,"t":12.5,"y":2.4},{"s":16,"t":15,"y":1.5},{"s":16,"t":17.5,"y":2.6},{"s":16,"t":20,"y":2.4},{"s":16,"t":22.5,"y":3.0},{"s":16,"t":25,"y":2.7},{"s":16,"t":27.5,"y":3.3},{"s":16,"t":30,"y":3.0},{"s":16,"t":32.5,"y":3.5},{"s":16,"t":35,"y":3.3},{"s":16,"t":37.5,"y":3.8},{"s":16,"t":40,"y":3.5},{"s":16,"t":42.5,"y":4.1},{"s":16,"t":45,"y":3.8},{"s":16,"t":47.5,"y":4.3},{"s":16,"t":50,"y":4.0},{"s":16,"t":52.5,"y":4.6},{"s":16,"t":55,"y":4.3},{"s":16,"t":57.5,"y":4.9},{"s":16,"t":60,"y":4.6},
{"s":17,"t":0.5,"y":0.6},{"s":17,"t":2.5,"y":0.9},{"s":17,"t":5,"y":0.8},{"s":17,"t":7.5,"y":1.7},{"s":17,"t":10,"y":1.6},{"s":17,"t":12.5,"y":2.0},{"s":17,"t":15,"y":2.2},{"s":17,"t":17.5,"y":2.1},{"s":17,"t":20,"y":2.6},{"s":17,"t":22.5,"y":2.5},{"s":17,"t":25,"y":2.9},{"s":17,"t":27.5,"y":2.8},{"s":17,"t":30,"y":3.2},{"s":17,"t":32.5,"y":3.0},{"s":17,"t":35,"y":3.5},{"s":17,"t":37.5,"y":3.3},{"s":17,"t":40,"y":3.7},{"s":17,"t":42.5,"y":3.5},{"s":17,"t":45,"y":4.0},{"s":17,"t":47.5,"y":3.2},{"s":17,"t":50,"y":2.6},{"s":17,"t":52.5,"y":3.9},{"s":17,"t":55,"y":4.4},{"s":17,"t":57.5,"y":3.1},{"s":17,"t":60,"y":4.6},
{"s":18,"t":0.5,"y":1.4},{"s":18,"t":2.5,"y":2.0},{"s":18,"t":5,"y":1.9},{"s":18,"t":7.5,"y":3.4},{"s":18,"t":10,"y":2.6},{"s":18,"t":12.5,"y":4.4},{"s":18,"t":15,"y":3.0},{"s":18,"t":17.5,"y":5.3},{"s":18,"t":20,"y":3.6},{"s":18,"t":22.5,"y":5.9},{"s":18,"t":25,"y":3.8},{"s":18,"t":27.5,"y":6.2},{"s":18,"t":30,"y":4.3},{"s":18,"t":32.5,"y":6.9},{"s":18,"t":35,"y":4.8},{"s":18,"t":37.5,"y":7.6},{"s":18,"t":40,"y":5.0},{"s":18,"t":42.5,"y":8.2},{"s":18,"t":45,"y":5.4},{"s":18,"t":47.5,"y":8.5},{"s":18,"t":50,"y":5.7},{"s":18,"t":52.5,"y":8.9},{"s":18,"t":55,"y":6.3},{"s":18,"t":57.5,"y":9.3},{"s":18,"t":60,"y":6.5},
{"s":19,"t":0.5,"y":0.7},{"s":19,"t":2.5,"y":1.8},{"s":19,"t":5,"y":1.4},{"s":19,"t":7.5,"y":2.8},{"s":19,"t":10,"y":1.9},{"s":19,"t":12.5,"y":3.6},{"s":19,"t":15,"y":2.4},{"s":19,"t":17.5,"y":4.1},{"s":19,"t":20,"y":2.9},{"s":19,"t":22.5,"y":4.5},{"s":19,"t":25,"y":3.0},{"s":19,"t":27.5,"y":5.1},{"s":19,"t":30,"y":3.5},{"s":19,"t":32.5,"y":5.3},{"s":19,"t":35,"y":3.9},{"s":19,"t":37.5,"y":5.9},{"s":19,"t":40,"y":4.0},{"s":19,"t":42.5,"y":6.4},{"s":19,"t":45,"y":4.3},{"s":19,"t":47.5,"y":6.8},{"s":19,"t":50,"y":4.6},{"s":19,"t":52.5,"y":7.2},{"s":19,"t":55,"y":4.9},{"s":19,"t":57.5,"y":7.4},{"s":19,"t":60,"y":5.6},
{"s":20,"t":0.5,"y":1.0},{"s":20,"t":2.5,"y":2.2},{"s":20,"t":5,"y":2.2},{"s":20,"t":7.5,"y":3.6},{"s":20,"t":10,"y":2.8},{"s":20,"t":12.5,"y":4.6},{"s":20,"t":15,"y":3.8},{"s":20,"t":17.5,"y":5.1},{"s":20,"t":20,"y":4.9},{"s":20,"t":22.5,"y":6.0},{"s":20,"t":25,"y":4.5},{"s":20,"t":27.5,"y":7.0},{"s":20,"t":30,"y":5.4},{"s":20,"t":32.5,"y":7.3},{"s":20,"t":35,"y":5.9},{"s":20,"t":37.5,"y":7.9},{"s":20,"t":40,"y":6.2},{"s":20,"t":42.5,"y":8.5},{"s":20,"t":45,"y":6.6},{"s":20,"t":47.5,"y":8.1},{"s":20,"t":50,"y":7.0},{"s":20,"t":52.5,"y":9.1},{"s":20,"t":55,"y":7.3},{"s":20,"t":57.5,"y":9.5},{"s":20,"t":60,"y":7.8},
{"s":21,"t":0.5,"y":0.6},{"s":21,"t":2.5,"y":1.6},{"s":21,"t":5,"y":1.2},{"s":21,"t":7.5,"y":2.5},{"s":21,"t":10,"y":1.6},{"s":21,"t":12.5,"y":2.9},{"s":21,"t":15,"y":2.0},{"s":21,"t":17.5,"y":3.5},{"s":21,"t":20,"y":1.7},{"s":21,"t":22.5,"y":3.7},{"s":21,"t":25,"y":2.5},{"s":21,"t":27.5,"y":4.2},{"s":21,"t":30,"y":2.9},{"s":21,"t":32.5,"y":4.6},{"s":21,"t":35,"y":3.1},{"s":21,"t":37.5,"y":5.0},{"s":21,"t":40,"y":2.8},{"s":21,"t":42.5,"y":5.4},{"s":21,"t":45,"y":3.4},{"s":21,"t":47.5,"y":5.6},{"s":21,"t":50,"y":3.5},{"s":21,"t":52.5,"y":5.9},{"s":21,"t":55,"y":3.6},{"s":21,"t":57.5,"y":6.2},{"s":21,"t":60,"y":4.2},
{"s":22,"t":0.5,"y":1.3},{"s":22,"t":2.5,"y":1.2},{"s":22,"t":5,"y":2.4},{"s":22,"t":7.5,"y":2.1},{"s":22,"t":10,"y":3.5},{"s":22,"t":12.5,"y":2.8},{"s":22,"t":15,"y":4.3},{"s":22,"t":17.5,"y":3.4},{"s":22,"t":20,"y":4.8},{"s":22,"t":22.5,"y":3.8},{"s":22,"t":25,"y":5.4},{"s":22,"t":27.5,"y":4.1},{"s":22,"t":30,"y":5.9},{"s":22,"t":32.5,"y":4.6},{"s":22,"t":35,"y":6.4},{"s":22,"t":37.5,"y":5.0},{"s":22,"t":40,"y":6.8},{"s":22,"t":42.5,"y":5.3},{"s":22,"t":45,"y":7.4},{"s":22,"t":47.5,"y":5.8},{"s":22,"t":50,"y":7.7},{"s":22,"t":52.5,"y":6.1},{"s":22,"t":55,"y":8.0},{"s":22,"t":57.5,"y":6.4},{"s":22,"t":60,"y":8.4},
{"s":23,"t":0.5,"y":0.9},{"s":23,"t":2.5,"y":1.6},{"s":23,"t":5,"y":1.5},{"s":23,"t":7.5,"y":2.6},{"s":23,"t":10,"y":2.0},{"s":23,"t":12.5,"y":3.1},{"s":23,"t":15,"y":2.5},{"s":23,"t":17.5,"y":3.4},{"s":23,"t":20,"y":2.8},{"s":23,"t":22.5,"y":3.9},{"s":23,"t":25,"y":3.1},{"s":23,"t":27.5,"y":4.4},{"s":23,"t":30,"y":3.4},{"s":23,"t":32.5,"y":4.8},{"s":23,"t":35,"y":3.6},{"s":23,"t":37.5,"y":5.2},{"s":23,"t":40,"y":4.0},{"s":23,"t":42.5,"y":5.5},{"s":23,"t":45,"y":4.2},{"s":23,"t":47.5,"y":5.9},{"s":23,"t":50,"y":4.5},{"s":23,"t":52.5,"y":6.3},{"s":23,"t":55,"y":4.8},{"s":23,"t":57.5,"y":6.5},{"s":23,"t":60,"y":5.0},
{"s":24,"t":0.5,"y":1.5},{"s":24,"t":2.5,"y":1.6},{"s":24,"t":5,"y":3.1},{"s":24,"t":7.5,"y":2.6},{"s":24,"t":10,"y":4.2},{"s":24,"t":12.5,"y":3.5},{"s":24,"t":15,"y":4.9},{"s":24,"t":17.5,"y":4.0},{"s":24,"t":20,"y":5.6},{"s":24,"t":22.5,"y":4.6},{"s":24,"t":25,"y":6.1},{"s":24,"t":27.5,"y":5.0},{"s":24,"t":30,"y":6.7},{"s":24,"t":32.5,"y":5.5},{"s":24,"t":35,"y":7.2},{"s":24,"t":37.5,"y":6.1},{"s":24,"t":40,"y":7.8},{"s":24,"t":42.5,"y":6.5},{"s":24,"t":45,"y":8.1},{"s":24,"t":47.5,"y":7.0},{"s":24,"t":50,"y":8.6},{"s":24,"t":52.5,"y":7.2},{"s":24,"t":55,"y":9.2},{"s":24,"t":57.5,"y":7.5},{"s":24,"t":60,"y":9.0},
{"s":25,"t":1.5,"y":1.6},{"s":25,"t":4,"y":2.6},{"s":25,"t":6.5,"y":2.5},{"s":25,"t":9,"y":3.9},{"s":25,"t":11.5,"y":3.2},{"s":25,"t":14,"y":4.4},{"s":25,"t":16.5,"y":3.7},{"s":25,"t":19,"y":5.0},{"s":25,"t":21.5,"y":4.2},{"s":25,"t":24,"y":5.3},{"s":25,"t":26.5,"y":4.6},{"s":25,"t":29,"y":5.7},{"s":25,"t":31.5,"y":5.0},{"s":25,"t":34,"y":6.2},{"s":25,"t":36.5,"y":5.5},{"s":25,"t":39,"y":6.6},{"s":25,"t":41.5,"y":5.9},{"s":25,"t":44,"y":7.0},{"s":25,"t":46.5,"y":6.3},{"s":25,"t":49,"y":7.3},{"s":25,"t":51.5,"y":6.7},{"s":25,"t":54,"y":7.7},{"s":25,"t":56.5,"y":7.1},{"s":25,"t":59,"y":8.1},{"s":25,"t":60,"y":7.6},
{"s":26,"t":1.5,"y":0.9},{"s":26,"t":4,"y":2.3},{"s":26,"t":6.5,"y":2.0},{"s":26,"t":9,"y":3.3},{"s":26,"t":11.5,"y":2.7},{"s":26,"t":14,"y":3.9},{"s":26,"t":16.5,"y":3.1},{"s":26,"t":19,"y":4.5},{"s":26,"t":21.5,"y":3.6},{"s":26,"t":24,"y":4.9},{"s":26,"t":26.5,"y":3.9},{"s":26,"t":29,"y":5.3},{"s":26,"t":31.5,"y":4.3},{"s":26,"t":34,"y":5.6},{"s":26,"t":36.5,"y":4.7},{"s":26,"t":39,"y":6.0},{"s":26,"t":41.5,"y":5.0},{"s":26,"t":44,"y":6.4},{"s":26,"t":46.5,"y":5.4},{"s":26,"t":49,"y":6.7},{"s":26,"t":51.5,"y":5.8},{"s":26,"t":54,"y":7.0},{"s":26,"t":56.5,"y":6.1},{"s":26,"t":59,"y":7.4},{"s":26,"t":60,"y":6.6},
{"s":27,"t":1.5,"y":1.5},{"s":27,"t":4,"y":1.5},{"s":27,"t":6.5,"y":2.6},{"s":27,"t":9,"y":2.2},{"s":27,"t":11.5,"y":3.3},{"s":27,"t":14,"y":2.7},{"s":27,"t":16.5,"y":3.7},{"s":27,"t":19,"y":3.1},{"s":27,"t":21.5,"y":4.3},{"s":27,"t":24,"y":3.6},{"s":27,"t":26.5,"y":4.7},{"s":27,"t":29,"y":4.0},{"s":27,"t":31.5,"y":5.1},{"s":27,"t":34,"y":4.4},{"s":27,"t":36.5,"y":5.6},{"s":27,"t":39,"y":4.8},{"s":27,"t":41.5,"y":5.9},{"s":27,"t":44,"y":5.2},{"s":27,"t":46.5,"y":6.3},{"s":27,"t":49,"y":5.4},{"s":27,"t":51.5,"y":6.7},{"s":27,"t":54,"y":5.8},{"s":27,"t":56.5,"y":7.0},{"s":27,"t":59,"y":6.1},{"s":27,"t":60,"y":6.9},
{"s":28,"t":1.5,"y":0.8},{"s":28,"t":4,"y":1.9},{"s":28,"t":6.5,"y":1.6},{"s":28,"t":9,"y":2.7},{"s":28,"t":11.5,"y":2.1},{"s":28,"t":14,"y":3.2},{"s":28,"t":16.5,"y":2.5},{"s":28,"t":19,"y":3.5},{"s":28,"t":21.5,"y":2.9},{"s":28,"t":24,"y":3.9},{"s":28,"t":26.5,"y":3.2},{"s":28,"t":29,"y":4.3},{"s":28,"t":31.5,"y":3.6},{"s":28,"t":34,"y":4.6},{"s":28,"t":36.5,"y":3.9},{"s":28,"t":39,"y":5.0},{"s":28,"t":41.5,"y":4.2},{"s":28,"t":44,"y":5.3},{"s":28,"t":46.5,"y":4.5},{"s":28,"t":49,"y":5.6},{"s":28,"t":51.5,"y":4.8},{"s":28,"t":54,"y":5.9},{"s":28,"t":56.5,"y":5.0},{"s":28,"t":59,"y":6.2},{"s":28,"t":60,"y":5.3},
{"s":29,"t":1.5,"y":1.2},{"s":29,"t":4,"y":1.1},{"s":29,"t":6.5,"y":2.1},{"s":29,"t":9,"y":1.7},{"s":29,"t":11.5,"y":2.6},{"s":29,"t":14,"y":2.1},{"s":29,"t":16.5,"y":2.9},{"s":29,"t":19,"y":2.5},{"s":29,"t":21.5,"y":3.3},{"s":29,"t":24,"y":2.8},{"s":29,"t":26.5,"y":3.6},{"s":29,"t":29,"y":3.1},{"s":29,"t":31.5,"y":3.9},{"s":29,"t":34,"y":3.4},{"s":29,"t":36.5,"y":4.3},{"s":29,"t":39,"y":3.7},{"s":29,"t":41.5,"y":4.5},{"s":29,"t":44,"y":4.0},{"s":29,"t":46.5,"y":4.8},{"s":29,"t":49,"y":4.2},{"s":29,"t":51.5,"y":5.1},{"s":29,"t":54,"y":4.4},{"s":29,"t":56.5,"y":5.4},{"s":29,"t":59,"y":4.7},{"s":29,"t":60,"y":5.0},
{"s":30,"t":1.5,"y":1.2},{"s":30,"t":4,"y":2.9},{"s":30,"t":6.5,"y":2.6},{"s":30,"t":9,"y":4.2},{"s":30,"t":11.5,"y":3.4},{"s":30,"t":14,"y":4.9},{"s":30,"t":16.5,"y":4.0},{"s":30,"t":19,"y":5.6},{"s":30,"t":21.5,"y":4.6},{"s":30,"t":24,"y":6.1},{"s":30,"t":26.5,"y":5.0},{"s":30,"t":29,"y":6.6},{"s":30,"t":31.5,"y":5.6},{"s":30,"t":34,"y":7.1},{"s":30,"t":36.5,"y":6.0},{"s":30,"t":39,"y":7.6},{"s":30,"t":41.5,"y":6.5},{"s":30,"t":44,"y":8.1},{"s":30,"t":46.5,"y":6.9},{"s":30,"t":49,"y":8.4},{"s":30,"t":51.5,"y":7.3},{"s":30,"t":54,"y":8.8},{"s":30,"t":56.5,"y":7.7},{"s":30,"t":59,"y":9.1},{"s":30,"t":60,"y":8.6},
{"s":31,"t":1.5,"y":1.4},{"s":31,"t":4,"y":2.0},{"s":31,"t":6.5,"y":3.0},{"s":31,"t":9,"y":2.6},{"s":31,"t":11.5,"y":3.6},{"s":31,"t":14,"y":3.8},{"s":31,"t":16.5,"y":3.3},{"s":31,"t":19,"y":4.6},{"s":31,"t":21.5,"y":4.5},{"s":31,"t":24,"y":4.0},{"s":31,"t":26.5,"y":5.2},{"s":31,"t":29,"y":4.9},{"s":31,"t":31.5,"y":4.6},{"s":31,"t":34,"y":5.8},{"s":31,"t":36.5,"y":5.6},{"s":31,"t":39,"y":5.2},{"s":31,"t":41.5,"y":6.5},{"s":31,"t":44,"y":6.1},{"s":31,"t":46.5,"y":5.8},{"s":31,"t":49,"y":7.1},{"s":31,"t":51.5,"y":6.8},{"s":31,"t":54,"y":6.4},{"s":31,"t":56.5,"y":7.6},{"s":31,"t":59,"y":7.3},{"s":31,"t":60,"y":7.0},
{"s":32,"t":1.5,"y":1.0},{"s":32,"t":4,"y":1.6},{"s":32,"t":6.5,"y":2.3},{"s":32,"t":9,"y":1.9},{"s":32,"t":11.5,"y":2.9},{"s":32,"t":14,"y":3.1},{"s":32,"t":16.5,"y":2.6},{"s":32,"t":19,"y":3.7},{"s":32,"t":21.5,"y":3.6},{"s":32,"t":24,"y":3.3},{"s":32,"t":26.5,"y":4.3},{"s":32,"t":29,"y":4.1},{"s":32,"t":31.5,"y":3.7},{"s":32,"t":34,"y":4.9},{"s":32,"t":36.5,"y":4.6},{"s":32,"t":39,"y":4.3},{"s":32,"t":41.5,"y":5.4},{"s":32,"t":44,"y":5.2},{"s":32,"t":46.5,"y":4.8},{"s":32,"t":49,"y":6.0},{"s":32,"t":51.5,"y":5.7},{"s":32,"t":54,"y":5.3},{"s":32,"t":56.5,"y":6.4},{"s":32,"t":59,"y":6.1},{"s":32,"t":60,"y":5.8},
{"s":33,"t":1.5,"y":0.7},{"s":33,"t":4,"y":1.3},{"s":33,"t":6.5,"y":1.7},{"s":33,"t":9,"y":1.4},{"s":33,"t":11.5,"y":2.3},{"s":33,"t":14,"y":2.4},{"s":33,"t":16.5,"y":2.0},{"s":33,"t":19,"y":2.9},{"s":33,"t":21.5,"y":2.8},{"s":33,"t":24,"y":2.5},{"s":33,"t":26.5,"y":3.4},{"s":33,"t":29,"y":3.2},{"s":33,"t":31.5,"y":2.9},{"s":33,"t":34,"y":3.9},{"s":33,"t":36.5,"y":3.7},{"s":33,"t":39,"y":3.3},{"s":33,"t":41.5,"y":4.3},{"s":33,"t":44,"y":4.1},{"s":33,"t":46.5,"y":3.6},{"s":33,"t":49,"y":4.7},{"s":33,"t":51.5,"y":4.4},{"s":33,"t":54,"y":3.9},{"s":33,"t":56.5,"y":5.0},{"s":33,"t":59,"y":4.8},{"s":33,"t":60,"y":4.4},
{"s":34,"t":1.5,"y":1.1},{"s":34,"t":4,"y":2.4},{"s":34,"t":6.5,"y":2.8},{"s":34,"t":9,"y":3.5},{"s":34,"t":11.5,"y":4.1},{"s":34,"t":14,"y":3.6},{"s":34,"t":16.5,"y":4.7},{"s":34,"t":19,"y":5.1},{"s":34,"t":21.5,"y":4.4},{"s":34,"t":24,"y":5.6},{"s":34,"t":26.5,"y":5.9},{"s":34,"t":29,"y":5.1},{"s":34,"t":31.5,"y":6.3},{"s":34,"t":34,"y":6.6},{"s":34,"t":36.5,"y":5.8},{"s":34,"t":39,"y":7.1},{"s":34,"t":41.5,"y":7.4},{"s":34,"t":44,"y":6.4},{"s":34,"t":46.5,"y":7.8},{"s":34,"t":49,"y":8.1},{"s":34,"t":51.5,"y":7.0},{"s":34,"t":54,"y":8.5},{"s":34,"t":56.5,"y":8.7},{"s":34,"t":59,"y":7.6},{"s":34,"t":60,"y":8.9},
{"s":35,"t":1.5,"y":1.3},{"s":35,"t":4,"y":1.8},{"s":35,"t":6.5,"y":2.7},{"s":35,"t":9,"y":3.0},{"s":35,"t":11.5,"y":2.6},{"s":35,"t":14,"y":3.7},{"s":35,"t":16.5,"y":3.9},{"s":35,"t":19,"y":3.5},{"s":35,"t":21.5,"y":4.5},{"s":35,"t":24,"y":4.6},{"s":35,"t":26.5,"y":4.1},{"s":35,"t":29,"y":5.1},{"s":35,"t":31.5,"y":5.3},{"s":35,"t":34,"y":4.8},{"s":35,"t":36.5,"y":5.8},{"s":35,"t":39,"y":5.9},{"s":35,"t":41.5,"y":5.4},{"s":35,"t":44,"y":6.4},{"s":35,"t":46.5,"y":6.5},{"s":35,"t":49,"y":6.0},{"s":35,"t":51.5,"y":6.9},{"s":35,"t":54,"y":7.1},{"s":35,"t":56.5,"y":6.5},{"s":35,"t":59,"y":7.4},{"s":35,"t":60,"y":7.0},
{"s":36,"t":1.5,"y":0.9},{"s":36,"t":4,"y":1.5},{"s":36,"t":6.5,"y":2.2},{"s":36,"t":9,"y":2.3},{"s":36,"t":11.5,"y":2.1},{"s":36,"t":14,"y":2.9},{"s":36,"t":16.5,"y":3.0},{"s":36,"t":19,"y":2.8},{"s":36,"t":21.5,"y":3.5},{"s":36,"t":24,"y":3.6},{"s":36,"t":26.5,"y":3.3},{"s":36,"t":29,"y":4.0},{"s":36,"t":31.5,"y":4.2},{"s":36,"t":34,"y":3.8},{"s":36,"t":36.5,"y":4.5},{"s":36,"t":39,"y":4.7},{"s":36,"t":41.5,"y":4.3},{"s":36,"t":44,"y":5.0},{"s":36,"t":46.5,"y":5.2},{"s":36,"t":49,"y":4.7},{"s":36,"t":51.5,"y":5.5},{"s":36,"t":54,"y":5.6},{"s":36,"t":56.5,"y":5.1},{"s":36,"t":59,"y":5.9},{"s":36,"t":60,"y":5.6}
],
"p4": [
{"s":1,"t":0.5,"y":0.6},{"s":1,"t":10,"y":2.93},{"s":1,"t":20,"y":4.8},{"s":1,"t":30,"y":6.2},{"s":1,"t":40,"y":7.13},{"s":1,"t":50,"y":7.6},{"s":1,"t":60,"y":7.6},
{"s":2,"t":0.5,"y":0.7},{"s":2,"t":10,"y":2.81},{"s":2,"t":20,"y":4.58},{"s":2,"t":30,"y":6.0},{"s":2,"t":40,"y":7.08},{"s":2,"t":50,"y":7.81},{"s":2,"t":60,"y":8.2},
{"s":3,"t":0.5,"y":0.6},{"s":3,"t":10,"y":2.64},{"s":3,"t":20,"y":4.41},{"s":3,"t":30,"y":5.9},{"s":3,"t":40,"y":7.11},{"s":3,"t":50,"y":8.04},{"s":3,"t":60,"y":8.7},
{"s":4,"t":0.5,"y":0.8},{"s":4,"t":10,"y":2.84},{"s":4,"t":20,"y":4.51},{"s":4,"t":30,"y":5.8},{"s":4,"t":40,"y":6.71},{"s":4,"t":50,"y":7.24},{"s":4,"t":60,"y":7.4},
{"s":5,"t":0.5,"y":0.7},{"s":5,"t":10,"y":2.61},{"s":5,"t":20,"y":4.28},{"s":5,"t":30,"y":5.7},{"s":5,"t":40,"y":6.88},{"s":5,"t":50,"y":7.81},{"s":5,"t":60,"y":8.5},
{"s":6,"t":0.5,"y":0.9},{"s":6,"t":10,"y":2.73},{"s":6,"t":20,"y":4.3},{"s":6,"t":30,"y":5.6},{"s":6,"t":40,"y":6.63},{"s":6,"t":50,"y":7.4},{"s":6,"t":60,"y":7.9},
{"s":7,"t":0.5,"y":1.0},{"s":7,"t":10,"y":2.86},{"s":7,"t":20,"y":4.36},{"s":7,"t":30,"y":5.5},{"s":7,"t":40,"y":6.29},{"s":7,"t":50,"y":6.72},{"s":7,"t":60,"y":6.8},
{"s":8,"t":0.5,"y":0.9},{"s":8,"t":10,"y":2.61},{"s":8,"t":20,"y":4.11},{"s":8,"t":30,"y":5.4},{"s":8,"t":40,"y":6.48},{"s":8,"t":50,"y":7.34},{"s":8,"t":60,"y":8.0},
{"s":9,"t":0.5,"y":1.1},{"s":9,"t":10,"y":2.76},{"s":9,"t":20,"y":4.16},{"s":9,"t":30,"y":5.3},{"s":9,"t":40,"y":6.19},{"s":9,"t":50,"y":6.82},{"s":9,"t":60,"y":7.2},
{"s":10,"t":0.5,"y":1.0},{"s":10,"t":10,"y":2.62},{"s":10,"t":20,"y":4.03},{"s":10,"t":30,"y":5.25},{"s":10,"t":40,"y":6.27},{"s":10,"t":50,"y":7.08},{"s":10,"t":60,"y":7.7},
{"s":11,"t":0.5,"y":1.2},{"s":11,"t":10,"y":2.83},{"s":11,"t":20,"y":4.17},{"s":11,"t":30,"y":5.2},{"s":11,"t":40,"y":5.93},{"s":11,"t":50,"y":6.37},{"s":11,"t":60,"y":6.5},
{"s":12,"t":0.5,"y":1.1},{"s":12,"t":10,"y":2.68},{"s":12,"t":20,"y":4.01},{"s":12,"t":30,"y":5.1},{"s":12,"t":40,"y":5.94},{"s":12,"t":50,"y":6.54},{"s":12,"t":60,"y":6.9},
{"s":13,"t":0.5,"y":1.3},{"s":13,"t":10,"y":2.81},{"s":13,"t":20,"y":4.04},{"s":13,"t":30,"y":5.0},{"s":13,"t":40,"y":5.68},{"s":13,"t":50,"y":6.08},{"s":13,"t":60,"y":6.2},
{"s":14,"t":0.5,"y":1.2},{"s":14,"t":10,"y":2.6},{"s":14,"t":20,"y":3.84},{"s":14,"t":30,"y":4.95},{"s":14,"t":40,"y":5.91},{"s":14,"t":50,"y":6.73},{"s":14,"t":60,"y":7.4},
{"s":15,"t":0.5,"y":1.3},{"s":15,"t":10,"y":2.71},{"s":15,"t":20,"y":3.91},{"s":15,"t":30,"y":4.9},{"s":15,"t":40,"y":5.68},{"s":15,"t":50,"y":6.25},{"s":15,"t":60,"y":6.6},
{"s":16,"t":0.5,"y":1.4},{"s":16,"t":10,"y":2.78},{"s":16,"t":20,"y":3.91},{"s":16,"t":30,"y":4.8},{"s":16,"t":40,"y":5.44},{"s":16,"t":50,"y":5.84},{"s":16,"t":60,"y":6.0},
{"s":17,"t":0.5,"y":1.3},{"s":17,"t":10,"y":2.58},{"s":17,"t":20,"y":3.73},{"s":17,"t":30,"y":4.75},{"s":17,"t":40,"y":5.63},{"s":17,"t":50,"y":6.38},{"s":17,"t":60,"y":7.0},
{"s":18,"t":0.5,"y":1.5},{"s":18,"t":10,"y":2.82},{"s":18,"t":20,"y":3.89},{"s":18,"t":30,"y":4.7},{"s":18,"t":40,"y":5.26},{"s":18,"t":50,"y":5.56},{"s":18,"t":60,"y":5.6},
{"s":19,"t":0.5,"y":1.4},{"s":19,"t":10,"y":2.62},{"s":19,"t":20,"y":3.69},{"s":19,"t":30,"y":4.6},{"s":19,"t":40,"y":5.36},{"s":19,"t":50,"y":5.96},{"s":19,"t":60,"y":6.4},
{"s":20,"t":0.5,"y":1.6},{"s":20,"t":10,"y":2.8},{"s":20,"t":20,"y":3.77},{"s":20,"t":30,"y":4.5},{"s":20,"t":40,"y":5.0},{"s":20,"t":50,"y":5.27},{"s":20,"t":60,"y":5.3},
{"s":21,"t":0.5,"y":1.5},{"s":21,"t":10,"y":2.55},{"s":21,"t":20,"y":3.53},{"s":21,"t":30,"y":4.45},{"s":21,"t":40,"y":5.3},{"s":21,"t":50,"y":6.08},{"s":21,"t":60,"y":6.8},
{"s":22,"t":0.5,"y":1.6},{"s":22,"t":10,"y":2.68},{"s":22,"t":20,"y":3.61},{"s":22,"t":30,"y":4.4},{"s":22,"t":40,"y":5.04},{"s":22,"t":50,"y":5.54},{"s":22,"t":60,"y":5.9},
{"s":23,"t":0.5,"y":1.7},{"s":23,"t":10,"y":2.77},{"s":23,"t":20,"y":3.63},{"s":23,"t":30,"y":4.3},{"s":23,"t":40,"y":4.77},{"s":23,"t":50,"y":5.03},{"s":23,"t":60,"y":5.1},
{"s":24,"t":0.5,"y":1.6},{"s":24,"t":10,"y":2.53},{"s":24,"t":20,"y":3.4},{"s":24,"t":30,"y":4.2},{"s":24,"t":40,"y":4.93},{"s":24,"t":50,"y":5.6},{"s":24,"t":60,"y":6.2},
{"s":25,"t":0.5,"y":1.8},{"s":25,"t":10,"y":2.73},{"s":25,"t":20,"y":3.5},{"s":25,"t":30,"y":4.1},{"s":25,"t":40,"y":4.53},{"s":25,"t":50,"y":4.8},{"s":25,"t":60,"y":4.9},
{"s":26,"t":0.5,"y":1.7},{"s":26,"t":10,"y":2.56},{"s":26,"t":20,"y":3.32},{"s":26,"t":30,"y":4.0},{"s":26,"t":40,"y":4.59},{"s":26,"t":50,"y":5.09},{"s":26,"t":60,"y":5.5},
{"s":27,"t":0.5,"y":1.9},{"s":27,"t":10,"y":2.69},{"s":27,"t":20,"y":3.36},{"s":27,"t":30,"y":3.9},{"s":27,"t":40,"y":4.32},{"s":27,"t":50,"y":4.62},{"s":27,"t":60,"y":4.8},
{"s":28,"t":0.5,"y":2.0},{"s":28,"t":10,"y":2.7},{"s":28,"t":20,"y":3.3},{"s":28,"t":30,"y":3.8},{"s":28,"t":40,"y":4.2},{"s":28,"t":50,"y":4.5},{"s":28,"t":60,"y":4.7},
{"s":29,"t":0.5,"y":2.1},{"s":29,"t":10,"y":2.67},{"s":29,"t":20,"y":3.2},{"s":29,"t":30,"y":3.7},{"s":29,"t":40,"y":4.17},{"s":29,"t":50,"y":4.6},{"s":29,"t":60,"y":5.0},
{"s":30,"t":0.5,"y":2.8},{"s":30,"t":10,"y":3.08},{"s":30,"t":20,"y":3.51},{"s":30,"t":30,"y":4.1},{"s":30,"t":40,"y":4.84},{"s":30,"t":50,"y":5.74},{"s":30,"t":60,"y":6.8},
{"s":31,"t":0.5,"y":0.9},{"s":31,"t":10,"y":2.72},{"s":31,"t":20,"y":4.26},{"s":31,"t":30,"y":5.5},{"s":31,"t":40,"y":6.46},{"s":31,"t":50,"y":7.12},{"s":31,"t":60,"y":7.5},
{"s":32,"t":0.5,"y":1.1},{"s":32,"t":10,"y":2.63},{"s":32,"t":20,"y":3.93},{"s":32,"t":30,"y":5.0},{"s":32,"t":40,"y":5.83},{"s":32,"t":50,"y":6.43},{"s":32,"t":60,"y":6.8},
{"s":33,"t":0.5,"y":1.3},{"s":33,"t":10,"y":2.61},{"s":33,"t":20,"y":3.71},{"s":33,"t":30,"y":4.6},{"s":33,"t":40,"y":5.28},{"s":33,"t":50,"y":5.75},{"s":33,"t":60,"y":6.0},
{"s":34,"t":0.5,"y":0.8},{"s":34,"t":10,"y":2.61},{"s":34,"t":20,"y":4.11},{"s":34,"t":30,"y":5.3},{"s":34,"t":40,"y":6.18},{"s":34,"t":50,"y":6.74},{"s":34,"t":60,"y":7.0},
{"s":35,"t":0.5,"y":1.5},{"s":35,"t":10,"y":2.6},{"s":35,"t":20,"y":3.53},{"s":35,"t":30,"y":4.3},{"s":35,"t":40,"y":4.9},{"s":35,"t":50,"y":5.33},{"s":35,"t":60,"y":5.6},
{"s":36,"t":0.5,"y":1.0},{"s":36,"t":10,"y":2.59},{"s":36,"t":20,"y":3.96},{"s":36,"t":30,"y":5.1},{"s":36,"t":40,"y":6.02},{"s":36,"t":50,"y":6.72},{"s":36,"t":60,"y":7.2},
{"s":37,"t":0.5,"y":1.2},{"s":37,"t":10,"y":2.69},{"s":37,"t":20,"y":3.92},{"s":37,"t":30,"y":4.9},{"s":37,"t":40,"y":5.62},{"s":37,"t":50,"y":6.09},{"s":37,"t":60,"y":6.3},
{"s":38,"t":0.5,"y":1.4},{"s":38,"t":10,"y":2.54},{"s":38,"t":20,"y":3.58},{"s":38,"t":30,"y":4.5},{"s":38,"t":40,"y":5.31},{"s":38,"t":50,"y":6.01},{"s":38,"t":60,"y":6.6}
]
},
"concat": [
{
 "width": 342.5, "height": 206.5,
 "title": "Séries Médias",
 "data": {"name": "p1"},
 "mark": {"type": "line", "color": "#000", "strokeWidth": 1.8},
 "encoding": {
  "x": {"field": "t", "type": "quantitative", "scale": {"domain": [-1.88, 62.38], "nice": false, "zero": false}, "axis": {"values": [0,10,20,30,40,50,60], "title": "Tempo"}},
  "y": {"field": "y", "type": "quantitative", "scale": {"domain": [-0.6, 15.6], "nice": false, "zero": false}, "axis": {"values": [0,5,10,15], "title": "Comprimento médio da fila"}},
  "detail": {"field": "s", "type": "nominal"}
 }
},
{
 "width": 342.5, "height": 206.5,
 "title": "Séries Ajustadas",
 "data": {"name": "p2"},
 "mark": {"type": "line", "color": "#000", "strokeWidth": 1.4, "interpolate": "monotone"},
 "encoding": {
  "x": {"field": "t", "type": "quantitative", "scale": {"domain": [-1.88, 62.38], "nice": false, "zero": false}, "axis": {"values": [0,10,20,30,40,50,60], "title": "Tempo"}},
  "y": {"field": "y", "type": "quantitative", "scale": {"domain": [-0.6, 15.6], "nice": false, "zero": false}, "axis": {"values": [0,5,10,15], "title": "Comprimento médio da fila"}},
  "detail": {"field": "s", "type": "nominal"}
 }
},
{
 "width": 342.5, "height": 206.5,
 "title": "Séries Médias",
 "data": {"name": "p3"},
 "mark": {"type": "line", "color": "#000", "strokeWidth": 2.8},
 "encoding": {
  "x": {"field": "t", "type": "quantitative", "scale": {"domain": [-1.88, 62.38], "nice": false, "zero": false}, "axis": {"values": [0,10,20,30,40,50,60], "title": "Tempo"}},
  "y": {"field": "y", "type": "quantitative", "scale": {"domain": [-0.4, 10.4], "nice": false, "zero": false}, "axis": {"values": [0,2,4,6,8,10], "title": "Tempo médio no sistema"}},
  "detail": {"field": "s", "type": "nominal"}
 }
},
{
 "width": 342.5, "height": 206.5,
 "title": "Séries Ajustadas",
 "data": {"name": "p4"},
 "mark": {"type": "line", "color": "#000", "strokeWidth": 1.4, "interpolate": "monotone"},
 "encoding": {
  "x": {"field": "t", "type": "quantitative", "scale": {"domain": [-1.88, 62.38], "nice": false, "zero": false}, "axis": {"values": [0,10,20,30,40,50,60], "title": "Tempo"}},
  "y": {"field": "y", "type": "quantitative", "scale": {"domain": [-0.4, 10.4], "nice": false, "zero": false}, "axis": {"values": [0,2,4,6,8,10], "title": "Tempo médio no sistema"}},
  "detail": {"field": "s", "type": "nominal"}
 }
}
]
}
